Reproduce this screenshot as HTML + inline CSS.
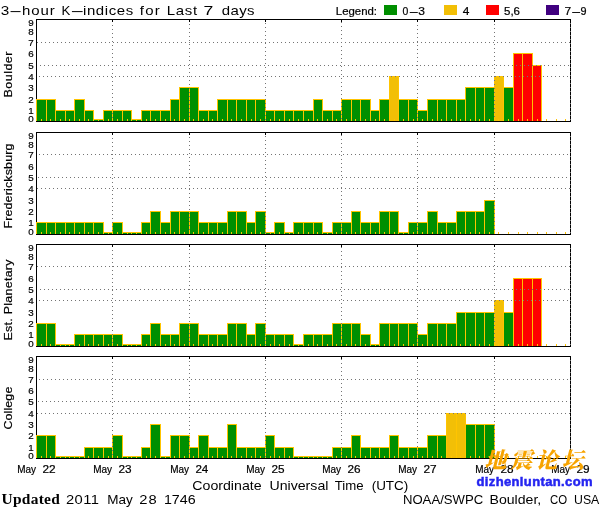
<!DOCTYPE html>
<html><head><meta charset="utf-8"><title>3-hour K-indices for Last 7 days</title>
<style>html,body{margin:0;padding:0;background:#fff}svg{display:block;will-change:transform}</style></head>
<body>
<svg width="600" height="510" viewBox="0 0 600 510">
<rect width="600" height="510" fill="#fff"/>
<g shape-rendering="crispEdges">
<rect x="384" y="5" width="13" height="10" fill="#008f00"/>
<rect x="444" y="5" width="13" height="10" fill="#f2bf06"/>
<rect x="486" y="5" width="13" height="10" fill="#ff0000"/>
<rect x="546" y="5" width="13" height="10" fill="#40007f"/>
<rect x="36" y="19" width="535" height="1" fill="#000"/>
<rect x="36" y="19" width="1" height="103" fill="#000"/>
<rect x="570" y="19" width="1" height="103" fill="#000"/>
<rect x="36" y="99" width="11" height="22" fill="#ffc400"/>
<rect x="37" y="100" width="9" height="21" fill="#008f00"/>
<rect x="46" y="99" width="10" height="22" fill="#ffc400"/>
<rect x="47" y="100" width="8" height="21" fill="#008f00"/>
<rect x="55" y="110" width="11" height="11" fill="#ffc400"/>
<rect x="56" y="111" width="9" height="10" fill="#008f00"/>
<rect x="65" y="110" width="10" height="11" fill="#ffc400"/>
<rect x="66" y="111" width="8" height="10" fill="#008f00"/>
<rect x="74" y="99" width="11" height="22" fill="#ffc400"/>
<rect x="75" y="100" width="9" height="21" fill="#008f00"/>
<rect x="84" y="110" width="10" height="11" fill="#ffc400"/>
<rect x="85" y="111" width="8" height="10" fill="#008f00"/>
<rect x="93" y="119" width="11" height="2" fill="#ffc400"/>
<rect x="94" y="120" width="9" height="1" fill="#008f00"/>
<rect x="103" y="110" width="10" height="11" fill="#ffc400"/>
<rect x="104" y="111" width="8" height="10" fill="#008f00"/>
<rect x="112" y="110" width="11" height="11" fill="#ffc400"/>
<rect x="113" y="111" width="9" height="10" fill="#008f00"/>
<rect x="122" y="110" width="10" height="11" fill="#ffc400"/>
<rect x="123" y="111" width="8" height="10" fill="#008f00"/>
<rect x="131" y="119" width="11" height="2" fill="#ffc400"/>
<rect x="132" y="120" width="9" height="1" fill="#008f00"/>
<rect x="141" y="110" width="10" height="11" fill="#ffc400"/>
<rect x="142" y="111" width="8" height="10" fill="#008f00"/>
<rect x="150" y="110" width="11" height="11" fill="#ffc400"/>
<rect x="151" y="111" width="9" height="10" fill="#008f00"/>
<rect x="160" y="110" width="11" height="11" fill="#ffc400"/>
<rect x="161" y="111" width="9" height="10" fill="#008f00"/>
<rect x="170" y="99" width="10" height="22" fill="#ffc400"/>
<rect x="171" y="100" width="8" height="21" fill="#008f00"/>
<rect x="179" y="87" width="11" height="34" fill="#ffc400"/>
<rect x="180" y="88" width="9" height="33" fill="#008f00"/>
<rect x="189" y="87" width="10" height="34" fill="#ffc400"/>
<rect x="190" y="88" width="8" height="33" fill="#008f00"/>
<rect x="198" y="110" width="11" height="11" fill="#ffc400"/>
<rect x="199" y="111" width="9" height="10" fill="#008f00"/>
<rect x="208" y="110" width="10" height="11" fill="#ffc400"/>
<rect x="209" y="111" width="8" height="10" fill="#008f00"/>
<rect x="217" y="99" width="11" height="22" fill="#ffc400"/>
<rect x="218" y="100" width="9" height="21" fill="#008f00"/>
<rect x="227" y="99" width="10" height="22" fill="#ffc400"/>
<rect x="228" y="100" width="8" height="21" fill="#008f00"/>
<rect x="236" y="99" width="11" height="22" fill="#ffc400"/>
<rect x="237" y="100" width="9" height="21" fill="#008f00"/>
<rect x="246" y="99" width="10" height="22" fill="#ffc400"/>
<rect x="247" y="100" width="8" height="21" fill="#008f00"/>
<rect x="255" y="99" width="11" height="22" fill="#ffc400"/>
<rect x="256" y="100" width="9" height="21" fill="#008f00"/>
<rect x="265" y="110" width="10" height="11" fill="#ffc400"/>
<rect x="266" y="111" width="8" height="10" fill="#008f00"/>
<rect x="274" y="110" width="11" height="11" fill="#ffc400"/>
<rect x="275" y="111" width="9" height="10" fill="#008f00"/>
<rect x="284" y="110" width="10" height="11" fill="#ffc400"/>
<rect x="285" y="111" width="8" height="10" fill="#008f00"/>
<rect x="293" y="110" width="11" height="11" fill="#ffc400"/>
<rect x="294" y="111" width="9" height="10" fill="#008f00"/>
<rect x="303" y="110" width="11" height="11" fill="#ffc400"/>
<rect x="304" y="111" width="9" height="10" fill="#008f00"/>
<rect x="313" y="99" width="10" height="22" fill="#ffc400"/>
<rect x="314" y="100" width="8" height="21" fill="#008f00"/>
<rect x="322" y="110" width="11" height="11" fill="#ffc400"/>
<rect x="323" y="111" width="9" height="10" fill="#008f00"/>
<rect x="332" y="110" width="10" height="11" fill="#ffc400"/>
<rect x="333" y="111" width="8" height="10" fill="#008f00"/>
<rect x="341" y="99" width="11" height="22" fill="#ffc400"/>
<rect x="342" y="100" width="9" height="21" fill="#008f00"/>
<rect x="351" y="99" width="10" height="22" fill="#ffc400"/>
<rect x="352" y="100" width="8" height="21" fill="#008f00"/>
<rect x="360" y="99" width="11" height="22" fill="#ffc400"/>
<rect x="361" y="100" width="9" height="21" fill="#008f00"/>
<rect x="370" y="110" width="10" height="11" fill="#ffc400"/>
<rect x="371" y="111" width="8" height="10" fill="#008f00"/>
<rect x="379" y="99" width="11" height="22" fill="#ffc400"/>
<rect x="380" y="100" width="9" height="21" fill="#008f00"/>
<rect x="389" y="76" width="10" height="45" fill="#ffc400"/>
<rect x="390" y="77" width="8" height="44" fill="#f2bf06"/>
<rect x="398" y="99" width="11" height="22" fill="#ffc400"/>
<rect x="399" y="100" width="9" height="21" fill="#008f00"/>
<rect x="408" y="99" width="10" height="22" fill="#ffc400"/>
<rect x="409" y="100" width="8" height="21" fill="#008f00"/>
<rect x="417" y="110" width="11" height="11" fill="#ffc400"/>
<rect x="418" y="111" width="9" height="10" fill="#008f00"/>
<rect x="427" y="99" width="11" height="22" fill="#ffc400"/>
<rect x="428" y="100" width="9" height="21" fill="#008f00"/>
<rect x="437" y="99" width="10" height="22" fill="#ffc400"/>
<rect x="438" y="100" width="8" height="21" fill="#008f00"/>
<rect x="446" y="99" width="11" height="22" fill="#ffc400"/>
<rect x="447" y="100" width="9" height="21" fill="#008f00"/>
<rect x="456" y="99" width="10" height="22" fill="#ffc400"/>
<rect x="457" y="100" width="8" height="21" fill="#008f00"/>
<rect x="465" y="87" width="11" height="34" fill="#ffc400"/>
<rect x="466" y="88" width="9" height="33" fill="#008f00"/>
<rect x="475" y="87" width="10" height="34" fill="#ffc400"/>
<rect x="476" y="88" width="8" height="33" fill="#008f00"/>
<rect x="484" y="87" width="11" height="34" fill="#ffc400"/>
<rect x="485" y="88" width="9" height="33" fill="#008f00"/>
<rect x="494" y="76" width="10" height="45" fill="#ffc400"/>
<rect x="495" y="77" width="8" height="44" fill="#f2bf06"/>
<rect x="503" y="87" width="11" height="34" fill="#ffc400"/>
<rect x="504" y="88" width="9" height="33" fill="#008f00"/>
<rect x="513" y="53" width="10" height="68" fill="#ffc400"/>
<rect x="514" y="54" width="8" height="67" fill="#ff0000"/>
<rect x="522" y="53" width="11" height="68" fill="#ffc400"/>
<rect x="523" y="54" width="9" height="67" fill="#ff0000"/>
<rect x="532" y="65" width="10" height="56" fill="#ffc400"/>
<rect x="533" y="66" width="8" height="55" fill="#ff0000"/>
<rect x="41" y="119" width="1" height="2" fill="#ffc400"/>
<rect x="50" y="119" width="1" height="2" fill="#ffc400"/>
<rect x="60" y="119" width="1" height="2" fill="#ffc400"/>
<rect x="69" y="119" width="1" height="2" fill="#ffc400"/>
<rect x="79" y="119" width="1" height="2" fill="#ffc400"/>
<rect x="88" y="119" width="1" height="2" fill="#ffc400"/>
<rect x="98" y="119" width="1" height="2" fill="#ffc400"/>
<rect x="108" y="119" width="1" height="2" fill="#ffc400"/>
<rect x="117" y="119" width="1" height="2" fill="#ffc400"/>
<rect x="127" y="119" width="1" height="2" fill="#ffc400"/>
<rect x="136" y="119" width="1" height="2" fill="#ffc400"/>
<rect x="146" y="119" width="1" height="2" fill="#ffc400"/>
<rect x="155" y="119" width="1" height="2" fill="#ffc400"/>
<rect x="165" y="119" width="1" height="2" fill="#ffc400"/>
<rect x="174" y="119" width="1" height="2" fill="#ffc400"/>
<rect x="184" y="119" width="1" height="2" fill="#ffc400"/>
<rect x="193" y="119" width="1" height="2" fill="#ffc400"/>
<rect x="203" y="119" width="1" height="2" fill="#ffc400"/>
<rect x="212" y="119" width="1" height="2" fill="#ffc400"/>
<rect x="222" y="119" width="1" height="2" fill="#ffc400"/>
<rect x="231" y="119" width="1" height="2" fill="#ffc400"/>
<rect x="241" y="119" width="1" height="2" fill="#ffc400"/>
<rect x="251" y="119" width="1" height="2" fill="#ffc400"/>
<rect x="260" y="119" width="1" height="2" fill="#ffc400"/>
<rect x="270" y="119" width="1" height="2" fill="#ffc400"/>
<rect x="279" y="119" width="1" height="2" fill="#ffc400"/>
<rect x="289" y="119" width="1" height="2" fill="#ffc400"/>
<rect x="298" y="119" width="1" height="2" fill="#ffc400"/>
<rect x="308" y="119" width="1" height="2" fill="#ffc400"/>
<rect x="317" y="119" width="1" height="2" fill="#ffc400"/>
<rect x="327" y="119" width="1" height="2" fill="#ffc400"/>
<rect x="336" y="119" width="1" height="2" fill="#ffc400"/>
<rect x="346" y="119" width="1" height="2" fill="#ffc400"/>
<rect x="355" y="119" width="1" height="2" fill="#ffc400"/>
<rect x="365" y="119" width="1" height="2" fill="#ffc400"/>
<rect x="375" y="119" width="1" height="2" fill="#ffc400"/>
<rect x="384" y="119" width="1" height="2" fill="#ffc400"/>
<rect x="394" y="119" width="1" height="2" fill="#ffc400"/>
<rect x="403" y="119" width="1" height="2" fill="#ffc400"/>
<rect x="413" y="119" width="1" height="2" fill="#ffc400"/>
<rect x="422" y="119" width="1" height="2" fill="#ffc400"/>
<rect x="432" y="119" width="1" height="2" fill="#ffc400"/>
<rect x="441" y="119" width="1" height="2" fill="#ffc400"/>
<rect x="451" y="119" width="1" height="2" fill="#ffc400"/>
<rect x="460" y="119" width="1" height="2" fill="#ffc400"/>
<rect x="470" y="119" width="1" height="2" fill="#ffc400"/>
<rect x="479" y="119" width="1" height="2" fill="#ffc400"/>
<rect x="489" y="119" width="1" height="2" fill="#ffc400"/>
<rect x="498" y="119" width="1" height="2" fill="#ffc400"/>
<rect x="508" y="119" width="1" height="2" fill="#ffc400"/>
<rect x="518" y="119" width="1" height="2" fill="#ffc400"/>
<rect x="527" y="119" width="1" height="2" fill="#ffc400"/>
<rect x="537" y="119" width="1" height="2" fill="#ffc400"/>
<rect x="546" y="119" width="1" height="2" fill="#ffc400"/>
<rect x="556" y="119" width="1" height="2" fill="#ffc400"/>
<rect x="565" y="119" width="1" height="2" fill="#ffc400"/>
<path d="M37 42h1v1h-1zM41 42h1v1h-1zM45 42h1v1h-1zM49 42h1v1h-1zM53 42h1v1h-1zM57 42h1v1h-1zM61 42h1v1h-1zM65 42h1v1h-1zM69 42h1v1h-1zM73 42h1v1h-1zM77 42h1v1h-1zM81 42h1v1h-1zM85 42h1v1h-1zM89 42h1v1h-1zM93 42h1v1h-1zM97 42h1v1h-1zM101 42h1v1h-1zM105 42h1v1h-1zM109 42h1v1h-1zM113 42h1v1h-1zM117 42h1v1h-1zM121 42h1v1h-1zM125 42h1v1h-1zM129 42h1v1h-1zM133 42h1v1h-1zM137 42h1v1h-1zM141 42h1v1h-1zM145 42h1v1h-1zM149 42h1v1h-1zM153 42h1v1h-1zM157 42h1v1h-1zM161 42h1v1h-1zM165 42h1v1h-1zM169 42h1v1h-1zM173 42h1v1h-1zM177 42h1v1h-1zM181 42h1v1h-1zM185 42h1v1h-1zM189 42h1v1h-1zM193 42h1v1h-1zM197 42h1v1h-1zM201 42h1v1h-1zM205 42h1v1h-1zM209 42h1v1h-1zM213 42h1v1h-1zM217 42h1v1h-1zM221 42h1v1h-1zM225 42h1v1h-1zM229 42h1v1h-1zM233 42h1v1h-1zM237 42h1v1h-1zM241 42h1v1h-1zM245 42h1v1h-1zM249 42h1v1h-1zM253 42h1v1h-1zM257 42h1v1h-1zM261 42h1v1h-1zM265 42h1v1h-1zM269 42h1v1h-1zM273 42h1v1h-1zM277 42h1v1h-1zM281 42h1v1h-1zM285 42h1v1h-1zM289 42h1v1h-1zM293 42h1v1h-1zM297 42h1v1h-1zM301 42h1v1h-1zM305 42h1v1h-1zM309 42h1v1h-1zM313 42h1v1h-1zM317 42h1v1h-1zM321 42h1v1h-1zM325 42h1v1h-1zM329 42h1v1h-1zM333 42h1v1h-1zM337 42h1v1h-1zM341 42h1v1h-1zM345 42h1v1h-1zM349 42h1v1h-1zM353 42h1v1h-1zM357 42h1v1h-1zM361 42h1v1h-1zM365 42h1v1h-1zM369 42h1v1h-1zM373 42h1v1h-1zM377 42h1v1h-1zM381 42h1v1h-1zM385 42h1v1h-1zM389 42h1v1h-1zM393 42h1v1h-1zM397 42h1v1h-1zM401 42h1v1h-1zM405 42h1v1h-1zM409 42h1v1h-1zM413 42h1v1h-1zM417 42h1v1h-1zM421 42h1v1h-1zM425 42h1v1h-1zM429 42h1v1h-1zM433 42h1v1h-1zM437 42h1v1h-1zM441 42h1v1h-1zM445 42h1v1h-1zM449 42h1v1h-1zM453 42h1v1h-1zM457 42h1v1h-1zM461 42h1v1h-1zM465 42h1v1h-1zM469 42h1v1h-1zM473 42h1v1h-1zM477 42h1v1h-1zM481 42h1v1h-1zM485 42h1v1h-1zM489 42h1v1h-1zM493 42h1v1h-1zM497 42h1v1h-1zM501 42h1v1h-1zM505 42h1v1h-1zM509 42h1v1h-1zM513 42h1v1h-1zM517 42h1v1h-1zM521 42h1v1h-1zM525 42h1v1h-1zM529 42h1v1h-1zM533 42h1v1h-1zM537 42h1v1h-1zM541 42h1v1h-1zM545 42h1v1h-1zM549 42h1v1h-1zM553 42h1v1h-1zM557 42h1v1h-1zM561 42h1v1h-1zM565 42h1v1h-1zM569 42h1v1h-1z" fill="#747474"/>
<path d="M40 65h1v1h-1zM44 65h1v1h-1zM48 65h1v1h-1zM52 65h1v1h-1zM56 65h1v1h-1zM60 65h1v1h-1zM64 65h1v1h-1zM68 65h1v1h-1zM72 65h1v1h-1zM76 65h1v1h-1zM80 65h1v1h-1zM84 65h1v1h-1zM88 65h1v1h-1zM92 65h1v1h-1zM96 65h1v1h-1zM100 65h1v1h-1zM104 65h1v1h-1zM108 65h1v1h-1zM112 65h1v1h-1zM116 65h1v1h-1zM120 65h1v1h-1zM124 65h1v1h-1zM128 65h1v1h-1zM132 65h1v1h-1zM136 65h1v1h-1zM140 65h1v1h-1zM144 65h1v1h-1zM148 65h1v1h-1zM152 65h1v1h-1zM156 65h1v1h-1zM160 65h1v1h-1zM164 65h1v1h-1zM168 65h1v1h-1zM172 65h1v1h-1zM176 65h1v1h-1zM180 65h1v1h-1zM184 65h1v1h-1zM188 65h1v1h-1zM192 65h1v1h-1zM196 65h1v1h-1zM200 65h1v1h-1zM204 65h1v1h-1zM208 65h1v1h-1zM212 65h1v1h-1zM216 65h1v1h-1zM220 65h1v1h-1zM224 65h1v1h-1zM228 65h1v1h-1zM232 65h1v1h-1zM236 65h1v1h-1zM240 65h1v1h-1zM244 65h1v1h-1zM248 65h1v1h-1zM252 65h1v1h-1zM256 65h1v1h-1zM260 65h1v1h-1zM264 65h1v1h-1zM268 65h1v1h-1zM272 65h1v1h-1zM276 65h1v1h-1zM280 65h1v1h-1zM284 65h1v1h-1zM288 65h1v1h-1zM292 65h1v1h-1zM296 65h1v1h-1zM300 65h1v1h-1zM304 65h1v1h-1zM308 65h1v1h-1zM312 65h1v1h-1zM316 65h1v1h-1zM320 65h1v1h-1zM324 65h1v1h-1zM328 65h1v1h-1zM332 65h1v1h-1zM336 65h1v1h-1zM340 65h1v1h-1zM344 65h1v1h-1zM348 65h1v1h-1zM352 65h1v1h-1zM356 65h1v1h-1zM360 65h1v1h-1zM364 65h1v1h-1zM368 65h1v1h-1zM372 65h1v1h-1zM376 65h1v1h-1zM380 65h1v1h-1zM384 65h1v1h-1zM388 65h1v1h-1zM392 65h1v1h-1zM396 65h1v1h-1zM400 65h1v1h-1zM404 65h1v1h-1zM408 65h1v1h-1zM412 65h1v1h-1zM416 65h1v1h-1zM420 65h1v1h-1zM424 65h1v1h-1zM428 65h1v1h-1zM432 65h1v1h-1zM436 65h1v1h-1zM440 65h1v1h-1zM444 65h1v1h-1zM448 65h1v1h-1zM452 65h1v1h-1zM456 65h1v1h-1zM460 65h1v1h-1zM464 65h1v1h-1zM468 65h1v1h-1zM472 65h1v1h-1zM476 65h1v1h-1zM480 65h1v1h-1zM484 65h1v1h-1zM488 65h1v1h-1zM492 65h1v1h-1zM496 65h1v1h-1zM500 65h1v1h-1zM504 65h1v1h-1zM508 65h1v1h-1zM512 65h1v1h-1zM516 65h1v1h-1zM520 65h1v1h-1zM524 65h1v1h-1zM528 65h1v1h-1zM532 65h1v1h-1zM536 65h1v1h-1zM540 65h1v1h-1zM544 65h1v1h-1zM548 65h1v1h-1zM552 65h1v1h-1zM556 65h1v1h-1zM560 65h1v1h-1zM564 65h1v1h-1zM568 65h1v1h-1z" fill="#747474"/>
<path d="M39 76h1v1h-1zM43 76h1v1h-1zM47 76h1v1h-1zM51 76h1v1h-1zM55 76h1v1h-1zM59 76h1v1h-1zM63 76h1v1h-1zM67 76h1v1h-1zM71 76h1v1h-1zM75 76h1v1h-1zM79 76h1v1h-1zM83 76h1v1h-1zM87 76h1v1h-1zM91 76h1v1h-1zM95 76h1v1h-1zM99 76h1v1h-1zM103 76h1v1h-1zM107 76h1v1h-1zM111 76h1v1h-1zM115 76h1v1h-1zM119 76h1v1h-1zM123 76h1v1h-1zM127 76h1v1h-1zM131 76h1v1h-1zM135 76h1v1h-1zM139 76h1v1h-1zM143 76h1v1h-1zM147 76h1v1h-1zM151 76h1v1h-1zM155 76h1v1h-1zM159 76h1v1h-1zM163 76h1v1h-1zM167 76h1v1h-1zM171 76h1v1h-1zM175 76h1v1h-1zM179 76h1v1h-1zM183 76h1v1h-1zM187 76h1v1h-1zM191 76h1v1h-1zM195 76h1v1h-1zM199 76h1v1h-1zM203 76h1v1h-1zM207 76h1v1h-1zM211 76h1v1h-1zM215 76h1v1h-1zM219 76h1v1h-1zM223 76h1v1h-1zM227 76h1v1h-1zM231 76h1v1h-1zM235 76h1v1h-1zM239 76h1v1h-1zM243 76h1v1h-1zM247 76h1v1h-1zM251 76h1v1h-1zM255 76h1v1h-1zM259 76h1v1h-1zM263 76h1v1h-1zM267 76h1v1h-1zM271 76h1v1h-1zM275 76h1v1h-1zM279 76h1v1h-1zM283 76h1v1h-1zM287 76h1v1h-1zM291 76h1v1h-1zM295 76h1v1h-1zM299 76h1v1h-1zM303 76h1v1h-1zM307 76h1v1h-1zM311 76h1v1h-1zM315 76h1v1h-1zM319 76h1v1h-1zM323 76h1v1h-1zM327 76h1v1h-1zM331 76h1v1h-1zM335 76h1v1h-1zM339 76h1v1h-1zM343 76h1v1h-1zM347 76h1v1h-1zM351 76h1v1h-1zM355 76h1v1h-1zM359 76h1v1h-1zM363 76h1v1h-1zM367 76h1v1h-1zM371 76h1v1h-1zM375 76h1v1h-1zM379 76h1v1h-1zM383 76h1v1h-1zM387 76h1v1h-1zM391 76h1v1h-1zM395 76h1v1h-1zM399 76h1v1h-1zM403 76h1v1h-1zM407 76h1v1h-1zM411 76h1v1h-1zM415 76h1v1h-1zM419 76h1v1h-1zM423 76h1v1h-1zM427 76h1v1h-1zM431 76h1v1h-1zM435 76h1v1h-1zM439 76h1v1h-1zM443 76h1v1h-1zM447 76h1v1h-1zM451 76h1v1h-1zM455 76h1v1h-1zM459 76h1v1h-1zM463 76h1v1h-1zM467 76h1v1h-1zM471 76h1v1h-1zM475 76h1v1h-1zM479 76h1v1h-1zM483 76h1v1h-1zM487 76h1v1h-1zM491 76h1v1h-1zM495 76h1v1h-1zM499 76h1v1h-1zM503 76h1v1h-1zM507 76h1v1h-1zM511 76h1v1h-1zM515 76h1v1h-1zM519 76h1v1h-1zM523 76h1v1h-1zM527 76h1v1h-1zM531 76h1v1h-1zM535 76h1v1h-1zM539 76h1v1h-1zM543 76h1v1h-1zM547 76h1v1h-1zM551 76h1v1h-1zM555 76h1v1h-1zM559 76h1v1h-1zM563 76h1v1h-1zM567 76h1v1h-1z" fill="#747474"/>
<path d="M112 25h1v1h-1zM112 29h1v1h-1zM112 33h1v1h-1zM112 37h1v1h-1zM112 41h1v1h-1zM112 45h1v1h-1zM112 49h1v1h-1zM112 53h1v1h-1zM112 57h1v1h-1zM112 61h1v1h-1zM112 65h1v1h-1zM112 69h1v1h-1zM112 73h1v1h-1zM112 77h1v1h-1zM112 81h1v1h-1zM112 85h1v1h-1zM112 89h1v1h-1zM112 93h1v1h-1zM112 97h1v1h-1zM112 101h1v1h-1zM112 105h1v1h-1zM112 109h1v1h-1zM112 113h1v1h-1zM112 117h1v1h-1z" fill="#747474"/>
<rect x="112" y="20" width="1" height="2" fill="#000"/>
<path d="M189 24h1v1h-1zM189 28h1v1h-1zM189 32h1v1h-1zM189 36h1v1h-1zM189 40h1v1h-1zM189 44h1v1h-1zM189 48h1v1h-1zM189 52h1v1h-1zM189 56h1v1h-1zM189 60h1v1h-1zM189 64h1v1h-1zM189 68h1v1h-1zM189 72h1v1h-1zM189 76h1v1h-1zM189 80h1v1h-1zM189 84h1v1h-1zM189 88h1v1h-1zM189 92h1v1h-1zM189 96h1v1h-1zM189 100h1v1h-1zM189 104h1v1h-1zM189 108h1v1h-1zM189 112h1v1h-1zM189 116h1v1h-1z" fill="#747474"/>
<rect x="189" y="20" width="1" height="2" fill="#000"/>
<path d="M265 23h1v1h-1zM265 27h1v1h-1zM265 31h1v1h-1zM265 35h1v1h-1zM265 39h1v1h-1zM265 43h1v1h-1zM265 47h1v1h-1zM265 51h1v1h-1zM265 55h1v1h-1zM265 59h1v1h-1zM265 63h1v1h-1zM265 67h1v1h-1zM265 71h1v1h-1zM265 75h1v1h-1zM265 79h1v1h-1zM265 83h1v1h-1zM265 87h1v1h-1zM265 91h1v1h-1zM265 95h1v1h-1zM265 99h1v1h-1zM265 103h1v1h-1zM265 107h1v1h-1zM265 111h1v1h-1zM265 115h1v1h-1zM265 119h1v1h-1z" fill="#747474"/>
<rect x="265" y="20" width="1" height="2" fill="#000"/>
<path d="M341 22h1v1h-1zM341 26h1v1h-1zM341 30h1v1h-1zM341 34h1v1h-1zM341 38h1v1h-1zM341 42h1v1h-1zM341 46h1v1h-1zM341 50h1v1h-1zM341 54h1v1h-1zM341 58h1v1h-1zM341 62h1v1h-1zM341 66h1v1h-1zM341 70h1v1h-1zM341 74h1v1h-1zM341 78h1v1h-1zM341 82h1v1h-1zM341 86h1v1h-1zM341 90h1v1h-1zM341 94h1v1h-1zM341 98h1v1h-1zM341 102h1v1h-1zM341 106h1v1h-1zM341 110h1v1h-1zM341 114h1v1h-1zM341 118h1v1h-1z" fill="#747474"/>
<rect x="341" y="20" width="1" height="2" fill="#000"/>
<path d="M417 25h1v1h-1zM417 29h1v1h-1zM417 33h1v1h-1zM417 37h1v1h-1zM417 41h1v1h-1zM417 45h1v1h-1zM417 49h1v1h-1zM417 53h1v1h-1zM417 57h1v1h-1zM417 61h1v1h-1zM417 65h1v1h-1zM417 69h1v1h-1zM417 73h1v1h-1zM417 77h1v1h-1zM417 81h1v1h-1zM417 85h1v1h-1zM417 89h1v1h-1zM417 93h1v1h-1zM417 97h1v1h-1zM417 101h1v1h-1zM417 105h1v1h-1zM417 109h1v1h-1zM417 113h1v1h-1zM417 117h1v1h-1z" fill="#747474"/>
<rect x="417" y="20" width="1" height="2" fill="#000"/>
<path d="M494 24h1v1h-1zM494 28h1v1h-1zM494 32h1v1h-1zM494 36h1v1h-1zM494 40h1v1h-1zM494 44h1v1h-1zM494 48h1v1h-1zM494 52h1v1h-1zM494 56h1v1h-1zM494 60h1v1h-1zM494 64h1v1h-1zM494 68h1v1h-1zM494 72h1v1h-1zM494 76h1v1h-1zM494 80h1v1h-1zM494 84h1v1h-1zM494 88h1v1h-1zM494 92h1v1h-1zM494 96h1v1h-1zM494 100h1v1h-1zM494 104h1v1h-1zM494 108h1v1h-1zM494 112h1v1h-1zM494 116h1v1h-1z" fill="#747474"/>
<rect x="494" y="20" width="1" height="2" fill="#000"/>
<path d="M570 23h1v1h-1zM570 27h1v1h-1zM570 31h1v1h-1zM570 35h1v1h-1zM570 39h1v1h-1zM570 43h1v1h-1zM570 47h1v1h-1zM570 51h1v1h-1zM570 55h1v1h-1zM570 59h1v1h-1zM570 63h1v1h-1zM570 67h1v1h-1zM570 71h1v1h-1zM570 75h1v1h-1zM570 79h1v1h-1zM570 83h1v1h-1zM570 87h1v1h-1zM570 91h1v1h-1zM570 95h1v1h-1zM570 99h1v1h-1zM570 103h1v1h-1zM570 107h1v1h-1zM570 111h1v1h-1zM570 115h1v1h-1zM570 119h1v1h-1z" fill="#747474"/>
<rect x="36" y="121" width="535" height="1" fill="#000"/>
<rect x="36" y="132" width="535" height="1" fill="#000"/>
<rect x="36" y="132" width="1" height="103" fill="#000"/>
<rect x="570" y="132" width="1" height="103" fill="#000"/>
<rect x="36" y="222" width="11" height="12" fill="#ffc400"/>
<rect x="37" y="223" width="9" height="11" fill="#008f00"/>
<rect x="46" y="222" width="10" height="12" fill="#ffc400"/>
<rect x="47" y="223" width="8" height="11" fill="#008f00"/>
<rect x="55" y="222" width="11" height="12" fill="#ffc400"/>
<rect x="56" y="223" width="9" height="11" fill="#008f00"/>
<rect x="65" y="222" width="10" height="12" fill="#ffc400"/>
<rect x="66" y="223" width="8" height="11" fill="#008f00"/>
<rect x="74" y="222" width="11" height="12" fill="#ffc400"/>
<rect x="75" y="223" width="9" height="11" fill="#008f00"/>
<rect x="84" y="222" width="10" height="12" fill="#ffc400"/>
<rect x="85" y="223" width="8" height="11" fill="#008f00"/>
<rect x="93" y="222" width="11" height="12" fill="#ffc400"/>
<rect x="94" y="223" width="9" height="11" fill="#008f00"/>
<rect x="103" y="232" width="10" height="2" fill="#ffc400"/>
<rect x="104" y="233" width="8" height="1" fill="#008f00"/>
<rect x="112" y="222" width="11" height="12" fill="#ffc400"/>
<rect x="113" y="223" width="9" height="11" fill="#008f00"/>
<rect x="122" y="232" width="10" height="2" fill="#ffc400"/>
<rect x="123" y="233" width="8" height="1" fill="#008f00"/>
<rect x="131" y="232" width="11" height="2" fill="#ffc400"/>
<rect x="132" y="233" width="9" height="1" fill="#008f00"/>
<rect x="141" y="222" width="10" height="12" fill="#ffc400"/>
<rect x="142" y="223" width="8" height="11" fill="#008f00"/>
<rect x="150" y="211" width="11" height="23" fill="#ffc400"/>
<rect x="151" y="212" width="9" height="22" fill="#008f00"/>
<rect x="160" y="222" width="11" height="12" fill="#ffc400"/>
<rect x="161" y="223" width="9" height="11" fill="#008f00"/>
<rect x="170" y="211" width="10" height="23" fill="#ffc400"/>
<rect x="171" y="212" width="8" height="22" fill="#008f00"/>
<rect x="179" y="211" width="11" height="23" fill="#ffc400"/>
<rect x="180" y="212" width="9" height="22" fill="#008f00"/>
<rect x="189" y="211" width="10" height="23" fill="#ffc400"/>
<rect x="190" y="212" width="8" height="22" fill="#008f00"/>
<rect x="198" y="222" width="11" height="12" fill="#ffc400"/>
<rect x="199" y="223" width="9" height="11" fill="#008f00"/>
<rect x="208" y="222" width="10" height="12" fill="#ffc400"/>
<rect x="209" y="223" width="8" height="11" fill="#008f00"/>
<rect x="217" y="222" width="11" height="12" fill="#ffc400"/>
<rect x="218" y="223" width="9" height="11" fill="#008f00"/>
<rect x="227" y="211" width="10" height="23" fill="#ffc400"/>
<rect x="228" y="212" width="8" height="22" fill="#008f00"/>
<rect x="236" y="211" width="11" height="23" fill="#ffc400"/>
<rect x="237" y="212" width="9" height="22" fill="#008f00"/>
<rect x="246" y="222" width="10" height="12" fill="#ffc400"/>
<rect x="247" y="223" width="8" height="11" fill="#008f00"/>
<rect x="255" y="211" width="11" height="23" fill="#ffc400"/>
<rect x="256" y="212" width="9" height="22" fill="#008f00"/>
<rect x="265" y="232" width="10" height="2" fill="#ffc400"/>
<rect x="266" y="233" width="8" height="1" fill="#008f00"/>
<rect x="274" y="222" width="11" height="12" fill="#ffc400"/>
<rect x="275" y="223" width="9" height="11" fill="#008f00"/>
<rect x="284" y="232" width="10" height="2" fill="#ffc400"/>
<rect x="285" y="233" width="8" height="1" fill="#008f00"/>
<rect x="293" y="222" width="11" height="12" fill="#ffc400"/>
<rect x="294" y="223" width="9" height="11" fill="#008f00"/>
<rect x="303" y="222" width="11" height="12" fill="#ffc400"/>
<rect x="304" y="223" width="9" height="11" fill="#008f00"/>
<rect x="313" y="222" width="10" height="12" fill="#ffc400"/>
<rect x="314" y="223" width="8" height="11" fill="#008f00"/>
<rect x="322" y="232" width="11" height="2" fill="#ffc400"/>
<rect x="323" y="233" width="9" height="1" fill="#008f00"/>
<rect x="332" y="222" width="10" height="12" fill="#ffc400"/>
<rect x="333" y="223" width="8" height="11" fill="#008f00"/>
<rect x="341" y="222" width="11" height="12" fill="#ffc400"/>
<rect x="342" y="223" width="9" height="11" fill="#008f00"/>
<rect x="351" y="211" width="10" height="23" fill="#ffc400"/>
<rect x="352" y="212" width="8" height="22" fill="#008f00"/>
<rect x="360" y="222" width="11" height="12" fill="#ffc400"/>
<rect x="361" y="223" width="9" height="11" fill="#008f00"/>
<rect x="370" y="222" width="10" height="12" fill="#ffc400"/>
<rect x="371" y="223" width="8" height="11" fill="#008f00"/>
<rect x="379" y="211" width="11" height="23" fill="#ffc400"/>
<rect x="380" y="212" width="9" height="22" fill="#008f00"/>
<rect x="389" y="211" width="10" height="23" fill="#ffc400"/>
<rect x="390" y="212" width="8" height="22" fill="#008f00"/>
<rect x="398" y="232" width="11" height="2" fill="#ffc400"/>
<rect x="399" y="233" width="9" height="1" fill="#008f00"/>
<rect x="408" y="222" width="10" height="12" fill="#ffc400"/>
<rect x="409" y="223" width="8" height="11" fill="#008f00"/>
<rect x="417" y="222" width="11" height="12" fill="#ffc400"/>
<rect x="418" y="223" width="9" height="11" fill="#008f00"/>
<rect x="427" y="211" width="11" height="23" fill="#ffc400"/>
<rect x="428" y="212" width="9" height="22" fill="#008f00"/>
<rect x="437" y="222" width="10" height="12" fill="#ffc400"/>
<rect x="438" y="223" width="8" height="11" fill="#008f00"/>
<rect x="446" y="222" width="11" height="12" fill="#ffc400"/>
<rect x="447" y="223" width="9" height="11" fill="#008f00"/>
<rect x="456" y="211" width="10" height="23" fill="#ffc400"/>
<rect x="457" y="212" width="8" height="22" fill="#008f00"/>
<rect x="465" y="211" width="11" height="23" fill="#ffc400"/>
<rect x="466" y="212" width="9" height="22" fill="#008f00"/>
<rect x="475" y="211" width="10" height="23" fill="#ffc400"/>
<rect x="476" y="212" width="8" height="22" fill="#008f00"/>
<rect x="484" y="200" width="11" height="34" fill="#ffc400"/>
<rect x="485" y="201" width="9" height="33" fill="#008f00"/>
<rect x="41" y="232" width="1" height="2" fill="#ffc400"/>
<rect x="50" y="232" width="1" height="2" fill="#ffc400"/>
<rect x="60" y="232" width="1" height="2" fill="#ffc400"/>
<rect x="69" y="232" width="1" height="2" fill="#ffc400"/>
<rect x="79" y="232" width="1" height="2" fill="#ffc400"/>
<rect x="88" y="232" width="1" height="2" fill="#ffc400"/>
<rect x="98" y="232" width="1" height="2" fill="#ffc400"/>
<rect x="108" y="232" width="1" height="2" fill="#ffc400"/>
<rect x="117" y="232" width="1" height="2" fill="#ffc400"/>
<rect x="127" y="232" width="1" height="2" fill="#ffc400"/>
<rect x="136" y="232" width="1" height="2" fill="#ffc400"/>
<rect x="146" y="232" width="1" height="2" fill="#ffc400"/>
<rect x="155" y="232" width="1" height="2" fill="#ffc400"/>
<rect x="165" y="232" width="1" height="2" fill="#ffc400"/>
<rect x="174" y="232" width="1" height="2" fill="#ffc400"/>
<rect x="184" y="232" width="1" height="2" fill="#ffc400"/>
<rect x="193" y="232" width="1" height="2" fill="#ffc400"/>
<rect x="203" y="232" width="1" height="2" fill="#ffc400"/>
<rect x="212" y="232" width="1" height="2" fill="#ffc400"/>
<rect x="222" y="232" width="1" height="2" fill="#ffc400"/>
<rect x="231" y="232" width="1" height="2" fill="#ffc400"/>
<rect x="241" y="232" width="1" height="2" fill="#ffc400"/>
<rect x="251" y="232" width="1" height="2" fill="#ffc400"/>
<rect x="260" y="232" width="1" height="2" fill="#ffc400"/>
<rect x="270" y="232" width="1" height="2" fill="#ffc400"/>
<rect x="279" y="232" width="1" height="2" fill="#ffc400"/>
<rect x="289" y="232" width="1" height="2" fill="#ffc400"/>
<rect x="298" y="232" width="1" height="2" fill="#ffc400"/>
<rect x="308" y="232" width="1" height="2" fill="#ffc400"/>
<rect x="317" y="232" width="1" height="2" fill="#ffc400"/>
<rect x="327" y="232" width="1" height="2" fill="#ffc400"/>
<rect x="336" y="232" width="1" height="2" fill="#ffc400"/>
<rect x="346" y="232" width="1" height="2" fill="#ffc400"/>
<rect x="355" y="232" width="1" height="2" fill="#ffc400"/>
<rect x="365" y="232" width="1" height="2" fill="#ffc400"/>
<rect x="375" y="232" width="1" height="2" fill="#ffc400"/>
<rect x="384" y="232" width="1" height="2" fill="#ffc400"/>
<rect x="394" y="232" width="1" height="2" fill="#ffc400"/>
<rect x="403" y="232" width="1" height="2" fill="#ffc400"/>
<rect x="413" y="232" width="1" height="2" fill="#ffc400"/>
<rect x="422" y="232" width="1" height="2" fill="#ffc400"/>
<rect x="432" y="232" width="1" height="2" fill="#ffc400"/>
<rect x="441" y="232" width="1" height="2" fill="#ffc400"/>
<rect x="451" y="232" width="1" height="2" fill="#ffc400"/>
<rect x="460" y="232" width="1" height="2" fill="#ffc400"/>
<rect x="470" y="232" width="1" height="2" fill="#ffc400"/>
<rect x="479" y="232" width="1" height="2" fill="#ffc400"/>
<rect x="489" y="232" width="1" height="2" fill="#ffc400"/>
<rect x="498" y="232" width="1" height="2" fill="#ffc400"/>
<rect x="508" y="232" width="1" height="2" fill="#ffc400"/>
<rect x="518" y="232" width="1" height="2" fill="#ffc400"/>
<rect x="527" y="232" width="1" height="2" fill="#ffc400"/>
<rect x="537" y="232" width="1" height="2" fill="#ffc400"/>
<rect x="546" y="232" width="1" height="2" fill="#ffc400"/>
<rect x="556" y="232" width="1" height="2" fill="#ffc400"/>
<rect x="565" y="232" width="1" height="2" fill="#ffc400"/>
<path d="M39 154h1v1h-1zM43 154h1v1h-1zM47 154h1v1h-1zM51 154h1v1h-1zM55 154h1v1h-1zM59 154h1v1h-1zM63 154h1v1h-1zM67 154h1v1h-1zM71 154h1v1h-1zM75 154h1v1h-1zM79 154h1v1h-1zM83 154h1v1h-1zM87 154h1v1h-1zM91 154h1v1h-1zM95 154h1v1h-1zM99 154h1v1h-1zM103 154h1v1h-1zM107 154h1v1h-1zM111 154h1v1h-1zM115 154h1v1h-1zM119 154h1v1h-1zM123 154h1v1h-1zM127 154h1v1h-1zM131 154h1v1h-1zM135 154h1v1h-1zM139 154h1v1h-1zM143 154h1v1h-1zM147 154h1v1h-1zM151 154h1v1h-1zM155 154h1v1h-1zM159 154h1v1h-1zM163 154h1v1h-1zM167 154h1v1h-1zM171 154h1v1h-1zM175 154h1v1h-1zM179 154h1v1h-1zM183 154h1v1h-1zM187 154h1v1h-1zM191 154h1v1h-1zM195 154h1v1h-1zM199 154h1v1h-1zM203 154h1v1h-1zM207 154h1v1h-1zM211 154h1v1h-1zM215 154h1v1h-1zM219 154h1v1h-1zM223 154h1v1h-1zM227 154h1v1h-1zM231 154h1v1h-1zM235 154h1v1h-1zM239 154h1v1h-1zM243 154h1v1h-1zM247 154h1v1h-1zM251 154h1v1h-1zM255 154h1v1h-1zM259 154h1v1h-1zM263 154h1v1h-1zM267 154h1v1h-1zM271 154h1v1h-1zM275 154h1v1h-1zM279 154h1v1h-1zM283 154h1v1h-1zM287 154h1v1h-1zM291 154h1v1h-1zM295 154h1v1h-1zM299 154h1v1h-1zM303 154h1v1h-1zM307 154h1v1h-1zM311 154h1v1h-1zM315 154h1v1h-1zM319 154h1v1h-1zM323 154h1v1h-1zM327 154h1v1h-1zM331 154h1v1h-1zM335 154h1v1h-1zM339 154h1v1h-1zM343 154h1v1h-1zM347 154h1v1h-1zM351 154h1v1h-1zM355 154h1v1h-1zM359 154h1v1h-1zM363 154h1v1h-1zM367 154h1v1h-1zM371 154h1v1h-1zM375 154h1v1h-1zM379 154h1v1h-1zM383 154h1v1h-1zM387 154h1v1h-1zM391 154h1v1h-1zM395 154h1v1h-1zM399 154h1v1h-1zM403 154h1v1h-1zM407 154h1v1h-1zM411 154h1v1h-1zM415 154h1v1h-1zM419 154h1v1h-1zM423 154h1v1h-1zM427 154h1v1h-1zM431 154h1v1h-1zM435 154h1v1h-1zM439 154h1v1h-1zM443 154h1v1h-1zM447 154h1v1h-1zM451 154h1v1h-1zM455 154h1v1h-1zM459 154h1v1h-1zM463 154h1v1h-1zM467 154h1v1h-1zM471 154h1v1h-1zM475 154h1v1h-1zM479 154h1v1h-1zM483 154h1v1h-1zM487 154h1v1h-1zM491 154h1v1h-1zM495 154h1v1h-1zM499 154h1v1h-1zM503 154h1v1h-1zM507 154h1v1h-1zM511 154h1v1h-1zM515 154h1v1h-1zM519 154h1v1h-1zM523 154h1v1h-1zM527 154h1v1h-1zM531 154h1v1h-1zM535 154h1v1h-1zM539 154h1v1h-1zM543 154h1v1h-1zM547 154h1v1h-1zM551 154h1v1h-1zM555 154h1v1h-1zM559 154h1v1h-1zM563 154h1v1h-1zM567 154h1v1h-1z" fill="#747474"/>
<path d="M38 177h1v1h-1zM42 177h1v1h-1zM46 177h1v1h-1zM50 177h1v1h-1zM54 177h1v1h-1zM58 177h1v1h-1zM62 177h1v1h-1zM66 177h1v1h-1zM70 177h1v1h-1zM74 177h1v1h-1zM78 177h1v1h-1zM82 177h1v1h-1zM86 177h1v1h-1zM90 177h1v1h-1zM94 177h1v1h-1zM98 177h1v1h-1zM102 177h1v1h-1zM106 177h1v1h-1zM110 177h1v1h-1zM114 177h1v1h-1zM118 177h1v1h-1zM122 177h1v1h-1zM126 177h1v1h-1zM130 177h1v1h-1zM134 177h1v1h-1zM138 177h1v1h-1zM142 177h1v1h-1zM146 177h1v1h-1zM150 177h1v1h-1zM154 177h1v1h-1zM158 177h1v1h-1zM162 177h1v1h-1zM166 177h1v1h-1zM170 177h1v1h-1zM174 177h1v1h-1zM178 177h1v1h-1zM182 177h1v1h-1zM186 177h1v1h-1zM190 177h1v1h-1zM194 177h1v1h-1zM198 177h1v1h-1zM202 177h1v1h-1zM206 177h1v1h-1zM210 177h1v1h-1zM214 177h1v1h-1zM218 177h1v1h-1zM222 177h1v1h-1zM226 177h1v1h-1zM230 177h1v1h-1zM234 177h1v1h-1zM238 177h1v1h-1zM242 177h1v1h-1zM246 177h1v1h-1zM250 177h1v1h-1zM254 177h1v1h-1zM258 177h1v1h-1zM262 177h1v1h-1zM266 177h1v1h-1zM270 177h1v1h-1zM274 177h1v1h-1zM278 177h1v1h-1zM282 177h1v1h-1zM286 177h1v1h-1zM290 177h1v1h-1zM294 177h1v1h-1zM298 177h1v1h-1zM302 177h1v1h-1zM306 177h1v1h-1zM310 177h1v1h-1zM314 177h1v1h-1zM318 177h1v1h-1zM322 177h1v1h-1zM326 177h1v1h-1zM330 177h1v1h-1zM334 177h1v1h-1zM338 177h1v1h-1zM342 177h1v1h-1zM346 177h1v1h-1zM350 177h1v1h-1zM354 177h1v1h-1zM358 177h1v1h-1zM362 177h1v1h-1zM366 177h1v1h-1zM370 177h1v1h-1zM374 177h1v1h-1zM378 177h1v1h-1zM382 177h1v1h-1zM386 177h1v1h-1zM390 177h1v1h-1zM394 177h1v1h-1zM398 177h1v1h-1zM402 177h1v1h-1zM406 177h1v1h-1zM410 177h1v1h-1zM414 177h1v1h-1zM418 177h1v1h-1zM422 177h1v1h-1zM426 177h1v1h-1zM430 177h1v1h-1zM434 177h1v1h-1zM438 177h1v1h-1zM442 177h1v1h-1zM446 177h1v1h-1zM450 177h1v1h-1zM454 177h1v1h-1zM458 177h1v1h-1zM462 177h1v1h-1zM466 177h1v1h-1zM470 177h1v1h-1zM474 177h1v1h-1zM478 177h1v1h-1zM482 177h1v1h-1zM486 177h1v1h-1zM490 177h1v1h-1zM494 177h1v1h-1zM498 177h1v1h-1zM502 177h1v1h-1zM506 177h1v1h-1zM510 177h1v1h-1zM514 177h1v1h-1zM518 177h1v1h-1zM522 177h1v1h-1zM526 177h1v1h-1zM530 177h1v1h-1zM534 177h1v1h-1zM538 177h1v1h-1zM542 177h1v1h-1zM546 177h1v1h-1zM550 177h1v1h-1zM554 177h1v1h-1zM558 177h1v1h-1zM562 177h1v1h-1zM566 177h1v1h-1z" fill="#747474"/>
<path d="M37 188h1v1h-1zM41 188h1v1h-1zM45 188h1v1h-1zM49 188h1v1h-1zM53 188h1v1h-1zM57 188h1v1h-1zM61 188h1v1h-1zM65 188h1v1h-1zM69 188h1v1h-1zM73 188h1v1h-1zM77 188h1v1h-1zM81 188h1v1h-1zM85 188h1v1h-1zM89 188h1v1h-1zM93 188h1v1h-1zM97 188h1v1h-1zM101 188h1v1h-1zM105 188h1v1h-1zM109 188h1v1h-1zM113 188h1v1h-1zM117 188h1v1h-1zM121 188h1v1h-1zM125 188h1v1h-1zM129 188h1v1h-1zM133 188h1v1h-1zM137 188h1v1h-1zM141 188h1v1h-1zM145 188h1v1h-1zM149 188h1v1h-1zM153 188h1v1h-1zM157 188h1v1h-1zM161 188h1v1h-1zM165 188h1v1h-1zM169 188h1v1h-1zM173 188h1v1h-1zM177 188h1v1h-1zM181 188h1v1h-1zM185 188h1v1h-1zM189 188h1v1h-1zM193 188h1v1h-1zM197 188h1v1h-1zM201 188h1v1h-1zM205 188h1v1h-1zM209 188h1v1h-1zM213 188h1v1h-1zM217 188h1v1h-1zM221 188h1v1h-1zM225 188h1v1h-1zM229 188h1v1h-1zM233 188h1v1h-1zM237 188h1v1h-1zM241 188h1v1h-1zM245 188h1v1h-1zM249 188h1v1h-1zM253 188h1v1h-1zM257 188h1v1h-1zM261 188h1v1h-1zM265 188h1v1h-1zM269 188h1v1h-1zM273 188h1v1h-1zM277 188h1v1h-1zM281 188h1v1h-1zM285 188h1v1h-1zM289 188h1v1h-1zM293 188h1v1h-1zM297 188h1v1h-1zM301 188h1v1h-1zM305 188h1v1h-1zM309 188h1v1h-1zM313 188h1v1h-1zM317 188h1v1h-1zM321 188h1v1h-1zM325 188h1v1h-1zM329 188h1v1h-1zM333 188h1v1h-1zM337 188h1v1h-1zM341 188h1v1h-1zM345 188h1v1h-1zM349 188h1v1h-1zM353 188h1v1h-1zM357 188h1v1h-1zM361 188h1v1h-1zM365 188h1v1h-1zM369 188h1v1h-1zM373 188h1v1h-1zM377 188h1v1h-1zM381 188h1v1h-1zM385 188h1v1h-1zM389 188h1v1h-1zM393 188h1v1h-1zM397 188h1v1h-1zM401 188h1v1h-1zM405 188h1v1h-1zM409 188h1v1h-1zM413 188h1v1h-1zM417 188h1v1h-1zM421 188h1v1h-1zM425 188h1v1h-1zM429 188h1v1h-1zM433 188h1v1h-1zM437 188h1v1h-1zM441 188h1v1h-1zM445 188h1v1h-1zM449 188h1v1h-1zM453 188h1v1h-1zM457 188h1v1h-1zM461 188h1v1h-1zM465 188h1v1h-1zM469 188h1v1h-1zM473 188h1v1h-1zM477 188h1v1h-1zM481 188h1v1h-1zM485 188h1v1h-1zM489 188h1v1h-1zM493 188h1v1h-1zM497 188h1v1h-1zM501 188h1v1h-1zM505 188h1v1h-1zM509 188h1v1h-1zM513 188h1v1h-1zM517 188h1v1h-1zM521 188h1v1h-1zM525 188h1v1h-1zM529 188h1v1h-1zM533 188h1v1h-1zM537 188h1v1h-1zM541 188h1v1h-1zM545 188h1v1h-1zM549 188h1v1h-1zM553 188h1v1h-1zM557 188h1v1h-1zM561 188h1v1h-1zM565 188h1v1h-1zM569 188h1v1h-1z" fill="#747474"/>
<path d="M112 138h1v1h-1zM112 142h1v1h-1zM112 146h1v1h-1zM112 150h1v1h-1zM112 154h1v1h-1zM112 158h1v1h-1zM112 162h1v1h-1zM112 166h1v1h-1zM112 170h1v1h-1zM112 174h1v1h-1zM112 178h1v1h-1zM112 182h1v1h-1zM112 186h1v1h-1zM112 190h1v1h-1zM112 194h1v1h-1zM112 198h1v1h-1zM112 202h1v1h-1zM112 206h1v1h-1zM112 210h1v1h-1zM112 214h1v1h-1zM112 218h1v1h-1zM112 222h1v1h-1zM112 226h1v1h-1zM112 230h1v1h-1z" fill="#747474"/>
<rect x="112" y="133" width="1" height="2" fill="#000"/>
<path d="M189 137h1v1h-1zM189 141h1v1h-1zM189 145h1v1h-1zM189 149h1v1h-1zM189 153h1v1h-1zM189 157h1v1h-1zM189 161h1v1h-1zM189 165h1v1h-1zM189 169h1v1h-1zM189 173h1v1h-1zM189 177h1v1h-1zM189 181h1v1h-1zM189 185h1v1h-1zM189 189h1v1h-1zM189 193h1v1h-1zM189 197h1v1h-1zM189 201h1v1h-1zM189 205h1v1h-1zM189 209h1v1h-1zM189 213h1v1h-1zM189 217h1v1h-1zM189 221h1v1h-1zM189 225h1v1h-1zM189 229h1v1h-1z" fill="#747474"/>
<rect x="189" y="133" width="1" height="2" fill="#000"/>
<path d="M265 136h1v1h-1zM265 140h1v1h-1zM265 144h1v1h-1zM265 148h1v1h-1zM265 152h1v1h-1zM265 156h1v1h-1zM265 160h1v1h-1zM265 164h1v1h-1zM265 168h1v1h-1zM265 172h1v1h-1zM265 176h1v1h-1zM265 180h1v1h-1zM265 184h1v1h-1zM265 188h1v1h-1zM265 192h1v1h-1zM265 196h1v1h-1zM265 200h1v1h-1zM265 204h1v1h-1zM265 208h1v1h-1zM265 212h1v1h-1zM265 216h1v1h-1zM265 220h1v1h-1zM265 224h1v1h-1zM265 228h1v1h-1zM265 232h1v1h-1z" fill="#747474"/>
<rect x="265" y="133" width="1" height="2" fill="#000"/>
<path d="M341 135h1v1h-1zM341 139h1v1h-1zM341 143h1v1h-1zM341 147h1v1h-1zM341 151h1v1h-1zM341 155h1v1h-1zM341 159h1v1h-1zM341 163h1v1h-1zM341 167h1v1h-1zM341 171h1v1h-1zM341 175h1v1h-1zM341 179h1v1h-1zM341 183h1v1h-1zM341 187h1v1h-1zM341 191h1v1h-1zM341 195h1v1h-1zM341 199h1v1h-1zM341 203h1v1h-1zM341 207h1v1h-1zM341 211h1v1h-1zM341 215h1v1h-1zM341 219h1v1h-1zM341 223h1v1h-1zM341 227h1v1h-1zM341 231h1v1h-1z" fill="#747474"/>
<rect x="341" y="133" width="1" height="2" fill="#000"/>
<path d="M417 138h1v1h-1zM417 142h1v1h-1zM417 146h1v1h-1zM417 150h1v1h-1zM417 154h1v1h-1zM417 158h1v1h-1zM417 162h1v1h-1zM417 166h1v1h-1zM417 170h1v1h-1zM417 174h1v1h-1zM417 178h1v1h-1zM417 182h1v1h-1zM417 186h1v1h-1zM417 190h1v1h-1zM417 194h1v1h-1zM417 198h1v1h-1zM417 202h1v1h-1zM417 206h1v1h-1zM417 210h1v1h-1zM417 214h1v1h-1zM417 218h1v1h-1zM417 222h1v1h-1zM417 226h1v1h-1zM417 230h1v1h-1z" fill="#747474"/>
<rect x="417" y="133" width="1" height="2" fill="#000"/>
<path d="M494 137h1v1h-1zM494 141h1v1h-1zM494 145h1v1h-1zM494 149h1v1h-1zM494 153h1v1h-1zM494 157h1v1h-1zM494 161h1v1h-1zM494 165h1v1h-1zM494 169h1v1h-1zM494 173h1v1h-1zM494 177h1v1h-1zM494 181h1v1h-1zM494 185h1v1h-1zM494 189h1v1h-1zM494 193h1v1h-1zM494 197h1v1h-1zM494 201h1v1h-1zM494 205h1v1h-1zM494 209h1v1h-1zM494 213h1v1h-1zM494 217h1v1h-1zM494 221h1v1h-1zM494 225h1v1h-1zM494 229h1v1h-1z" fill="#747474"/>
<rect x="494" y="133" width="1" height="2" fill="#000"/>
<path d="M570 136h1v1h-1zM570 140h1v1h-1zM570 144h1v1h-1zM570 148h1v1h-1zM570 152h1v1h-1zM570 156h1v1h-1zM570 160h1v1h-1zM570 164h1v1h-1zM570 168h1v1h-1zM570 172h1v1h-1zM570 176h1v1h-1zM570 180h1v1h-1zM570 184h1v1h-1zM570 188h1v1h-1zM570 192h1v1h-1zM570 196h1v1h-1zM570 200h1v1h-1zM570 204h1v1h-1zM570 208h1v1h-1zM570 212h1v1h-1zM570 216h1v1h-1zM570 220h1v1h-1zM570 224h1v1h-1zM570 228h1v1h-1zM570 232h1v1h-1z" fill="#747474"/>
<rect x="36" y="234" width="535" height="1" fill="#000"/>
<rect x="36" y="244" width="535" height="1" fill="#000"/>
<rect x="36" y="244" width="1" height="103" fill="#000"/>
<rect x="570" y="244" width="1" height="103" fill="#000"/>
<rect x="36" y="323" width="11" height="23" fill="#ffc400"/>
<rect x="37" y="324" width="9" height="22" fill="#008f00"/>
<rect x="46" y="323" width="10" height="23" fill="#ffc400"/>
<rect x="47" y="324" width="8" height="22" fill="#008f00"/>
<rect x="55" y="344" width="11" height="2" fill="#ffc400"/>
<rect x="56" y="345" width="9" height="1" fill="#008f00"/>
<rect x="65" y="344" width="10" height="2" fill="#ffc400"/>
<rect x="66" y="345" width="8" height="1" fill="#008f00"/>
<rect x="74" y="334" width="11" height="12" fill="#ffc400"/>
<rect x="75" y="335" width="9" height="11" fill="#008f00"/>
<rect x="84" y="334" width="10" height="12" fill="#ffc400"/>
<rect x="85" y="335" width="8" height="11" fill="#008f00"/>
<rect x="93" y="334" width="11" height="12" fill="#ffc400"/>
<rect x="94" y="335" width="9" height="11" fill="#008f00"/>
<rect x="103" y="334" width="10" height="12" fill="#ffc400"/>
<rect x="104" y="335" width="8" height="11" fill="#008f00"/>
<rect x="112" y="334" width="11" height="12" fill="#ffc400"/>
<rect x="113" y="335" width="9" height="11" fill="#008f00"/>
<rect x="122" y="344" width="10" height="2" fill="#ffc400"/>
<rect x="123" y="345" width="8" height="1" fill="#008f00"/>
<rect x="131" y="344" width="11" height="2" fill="#ffc400"/>
<rect x="132" y="345" width="9" height="1" fill="#008f00"/>
<rect x="141" y="334" width="10" height="12" fill="#ffc400"/>
<rect x="142" y="335" width="8" height="11" fill="#008f00"/>
<rect x="150" y="323" width="11" height="23" fill="#ffc400"/>
<rect x="151" y="324" width="9" height="22" fill="#008f00"/>
<rect x="160" y="334" width="11" height="12" fill="#ffc400"/>
<rect x="161" y="335" width="9" height="11" fill="#008f00"/>
<rect x="170" y="334" width="10" height="12" fill="#ffc400"/>
<rect x="171" y="335" width="8" height="11" fill="#008f00"/>
<rect x="179" y="323" width="11" height="23" fill="#ffc400"/>
<rect x="180" y="324" width="9" height="22" fill="#008f00"/>
<rect x="189" y="323" width="10" height="23" fill="#ffc400"/>
<rect x="190" y="324" width="8" height="22" fill="#008f00"/>
<rect x="198" y="334" width="11" height="12" fill="#ffc400"/>
<rect x="199" y="335" width="9" height="11" fill="#008f00"/>
<rect x="208" y="334" width="10" height="12" fill="#ffc400"/>
<rect x="209" y="335" width="8" height="11" fill="#008f00"/>
<rect x="217" y="334" width="11" height="12" fill="#ffc400"/>
<rect x="218" y="335" width="9" height="11" fill="#008f00"/>
<rect x="227" y="323" width="10" height="23" fill="#ffc400"/>
<rect x="228" y="324" width="8" height="22" fill="#008f00"/>
<rect x="236" y="323" width="11" height="23" fill="#ffc400"/>
<rect x="237" y="324" width="9" height="22" fill="#008f00"/>
<rect x="246" y="334" width="10" height="12" fill="#ffc400"/>
<rect x="247" y="335" width="8" height="11" fill="#008f00"/>
<rect x="255" y="323" width="11" height="23" fill="#ffc400"/>
<rect x="256" y="324" width="9" height="22" fill="#008f00"/>
<rect x="265" y="334" width="10" height="12" fill="#ffc400"/>
<rect x="266" y="335" width="8" height="11" fill="#008f00"/>
<rect x="274" y="334" width="11" height="12" fill="#ffc400"/>
<rect x="275" y="335" width="9" height="11" fill="#008f00"/>
<rect x="284" y="334" width="10" height="12" fill="#ffc400"/>
<rect x="285" y="335" width="8" height="11" fill="#008f00"/>
<rect x="293" y="344" width="11" height="2" fill="#ffc400"/>
<rect x="294" y="345" width="9" height="1" fill="#008f00"/>
<rect x="303" y="334" width="11" height="12" fill="#ffc400"/>
<rect x="304" y="335" width="9" height="11" fill="#008f00"/>
<rect x="313" y="334" width="10" height="12" fill="#ffc400"/>
<rect x="314" y="335" width="8" height="11" fill="#008f00"/>
<rect x="322" y="334" width="11" height="12" fill="#ffc400"/>
<rect x="323" y="335" width="9" height="11" fill="#008f00"/>
<rect x="332" y="323" width="10" height="23" fill="#ffc400"/>
<rect x="333" y="324" width="8" height="22" fill="#008f00"/>
<rect x="341" y="323" width="11" height="23" fill="#ffc400"/>
<rect x="342" y="324" width="9" height="22" fill="#008f00"/>
<rect x="351" y="323" width="10" height="23" fill="#ffc400"/>
<rect x="352" y="324" width="8" height="22" fill="#008f00"/>
<rect x="360" y="334" width="11" height="12" fill="#ffc400"/>
<rect x="361" y="335" width="9" height="11" fill="#008f00"/>
<rect x="370" y="344" width="10" height="2" fill="#ffc400"/>
<rect x="371" y="345" width="8" height="1" fill="#008f00"/>
<rect x="379" y="323" width="11" height="23" fill="#ffc400"/>
<rect x="380" y="324" width="9" height="22" fill="#008f00"/>
<rect x="389" y="323" width="10" height="23" fill="#ffc400"/>
<rect x="390" y="324" width="8" height="22" fill="#008f00"/>
<rect x="398" y="323" width="11" height="23" fill="#ffc400"/>
<rect x="399" y="324" width="9" height="22" fill="#008f00"/>
<rect x="408" y="323" width="10" height="23" fill="#ffc400"/>
<rect x="409" y="324" width="8" height="22" fill="#008f00"/>
<rect x="417" y="334" width="11" height="12" fill="#ffc400"/>
<rect x="418" y="335" width="9" height="11" fill="#008f00"/>
<rect x="427" y="323" width="11" height="23" fill="#ffc400"/>
<rect x="428" y="324" width="9" height="22" fill="#008f00"/>
<rect x="437" y="323" width="10" height="23" fill="#ffc400"/>
<rect x="438" y="324" width="8" height="22" fill="#008f00"/>
<rect x="446" y="323" width="11" height="23" fill="#ffc400"/>
<rect x="447" y="324" width="9" height="22" fill="#008f00"/>
<rect x="456" y="312" width="10" height="34" fill="#ffc400"/>
<rect x="457" y="313" width="8" height="33" fill="#008f00"/>
<rect x="465" y="312" width="11" height="34" fill="#ffc400"/>
<rect x="466" y="313" width="9" height="33" fill="#008f00"/>
<rect x="475" y="312" width="10" height="34" fill="#ffc400"/>
<rect x="476" y="313" width="8" height="33" fill="#008f00"/>
<rect x="484" y="312" width="11" height="34" fill="#ffc400"/>
<rect x="485" y="313" width="9" height="33" fill="#008f00"/>
<rect x="494" y="300" width="10" height="46" fill="#ffc400"/>
<rect x="495" y="301" width="8" height="45" fill="#f2bf06"/>
<rect x="503" y="312" width="11" height="34" fill="#ffc400"/>
<rect x="504" y="313" width="9" height="33" fill="#008f00"/>
<rect x="513" y="278" width="10" height="68" fill="#ffc400"/>
<rect x="514" y="279" width="8" height="67" fill="#ff0000"/>
<rect x="522" y="278" width="11" height="68" fill="#ffc400"/>
<rect x="523" y="279" width="9" height="67" fill="#ff0000"/>
<rect x="532" y="278" width="10" height="68" fill="#ffc400"/>
<rect x="533" y="279" width="8" height="67" fill="#ff0000"/>
<rect x="41" y="344" width="1" height="2" fill="#ffc400"/>
<rect x="50" y="344" width="1" height="2" fill="#ffc400"/>
<rect x="60" y="344" width="1" height="2" fill="#ffc400"/>
<rect x="69" y="344" width="1" height="2" fill="#ffc400"/>
<rect x="79" y="344" width="1" height="2" fill="#ffc400"/>
<rect x="88" y="344" width="1" height="2" fill="#ffc400"/>
<rect x="98" y="344" width="1" height="2" fill="#ffc400"/>
<rect x="108" y="344" width="1" height="2" fill="#ffc400"/>
<rect x="117" y="344" width="1" height="2" fill="#ffc400"/>
<rect x="127" y="344" width="1" height="2" fill="#ffc400"/>
<rect x="136" y="344" width="1" height="2" fill="#ffc400"/>
<rect x="146" y="344" width="1" height="2" fill="#ffc400"/>
<rect x="155" y="344" width="1" height="2" fill="#ffc400"/>
<rect x="165" y="344" width="1" height="2" fill="#ffc400"/>
<rect x="174" y="344" width="1" height="2" fill="#ffc400"/>
<rect x="184" y="344" width="1" height="2" fill="#ffc400"/>
<rect x="193" y="344" width="1" height="2" fill="#ffc400"/>
<rect x="203" y="344" width="1" height="2" fill="#ffc400"/>
<rect x="212" y="344" width="1" height="2" fill="#ffc400"/>
<rect x="222" y="344" width="1" height="2" fill="#ffc400"/>
<rect x="231" y="344" width="1" height="2" fill="#ffc400"/>
<rect x="241" y="344" width="1" height="2" fill="#ffc400"/>
<rect x="251" y="344" width="1" height="2" fill="#ffc400"/>
<rect x="260" y="344" width="1" height="2" fill="#ffc400"/>
<rect x="270" y="344" width="1" height="2" fill="#ffc400"/>
<rect x="279" y="344" width="1" height="2" fill="#ffc400"/>
<rect x="289" y="344" width="1" height="2" fill="#ffc400"/>
<rect x="298" y="344" width="1" height="2" fill="#ffc400"/>
<rect x="308" y="344" width="1" height="2" fill="#ffc400"/>
<rect x="317" y="344" width="1" height="2" fill="#ffc400"/>
<rect x="327" y="344" width="1" height="2" fill="#ffc400"/>
<rect x="336" y="344" width="1" height="2" fill="#ffc400"/>
<rect x="346" y="344" width="1" height="2" fill="#ffc400"/>
<rect x="355" y="344" width="1" height="2" fill="#ffc400"/>
<rect x="365" y="344" width="1" height="2" fill="#ffc400"/>
<rect x="375" y="344" width="1" height="2" fill="#ffc400"/>
<rect x="384" y="344" width="1" height="2" fill="#ffc400"/>
<rect x="394" y="344" width="1" height="2" fill="#ffc400"/>
<rect x="403" y="344" width="1" height="2" fill="#ffc400"/>
<rect x="413" y="344" width="1" height="2" fill="#ffc400"/>
<rect x="422" y="344" width="1" height="2" fill="#ffc400"/>
<rect x="432" y="344" width="1" height="2" fill="#ffc400"/>
<rect x="441" y="344" width="1" height="2" fill="#ffc400"/>
<rect x="451" y="344" width="1" height="2" fill="#ffc400"/>
<rect x="460" y="344" width="1" height="2" fill="#ffc400"/>
<rect x="470" y="344" width="1" height="2" fill="#ffc400"/>
<rect x="479" y="344" width="1" height="2" fill="#ffc400"/>
<rect x="489" y="344" width="1" height="2" fill="#ffc400"/>
<rect x="498" y="344" width="1" height="2" fill="#ffc400"/>
<rect x="508" y="344" width="1" height="2" fill="#ffc400"/>
<rect x="518" y="344" width="1" height="2" fill="#ffc400"/>
<rect x="527" y="344" width="1" height="2" fill="#ffc400"/>
<rect x="537" y="344" width="1" height="2" fill="#ffc400"/>
<rect x="546" y="344" width="1" height="2" fill="#ffc400"/>
<rect x="556" y="344" width="1" height="2" fill="#ffc400"/>
<rect x="565" y="344" width="1" height="2" fill="#ffc400"/>
<path d="M37 266h1v1h-1zM41 266h1v1h-1zM45 266h1v1h-1zM49 266h1v1h-1zM53 266h1v1h-1zM57 266h1v1h-1zM61 266h1v1h-1zM65 266h1v1h-1zM69 266h1v1h-1zM73 266h1v1h-1zM77 266h1v1h-1zM81 266h1v1h-1zM85 266h1v1h-1zM89 266h1v1h-1zM93 266h1v1h-1zM97 266h1v1h-1zM101 266h1v1h-1zM105 266h1v1h-1zM109 266h1v1h-1zM113 266h1v1h-1zM117 266h1v1h-1zM121 266h1v1h-1zM125 266h1v1h-1zM129 266h1v1h-1zM133 266h1v1h-1zM137 266h1v1h-1zM141 266h1v1h-1zM145 266h1v1h-1zM149 266h1v1h-1zM153 266h1v1h-1zM157 266h1v1h-1zM161 266h1v1h-1zM165 266h1v1h-1zM169 266h1v1h-1zM173 266h1v1h-1zM177 266h1v1h-1zM181 266h1v1h-1zM185 266h1v1h-1zM189 266h1v1h-1zM193 266h1v1h-1zM197 266h1v1h-1zM201 266h1v1h-1zM205 266h1v1h-1zM209 266h1v1h-1zM213 266h1v1h-1zM217 266h1v1h-1zM221 266h1v1h-1zM225 266h1v1h-1zM229 266h1v1h-1zM233 266h1v1h-1zM237 266h1v1h-1zM241 266h1v1h-1zM245 266h1v1h-1zM249 266h1v1h-1zM253 266h1v1h-1zM257 266h1v1h-1zM261 266h1v1h-1zM265 266h1v1h-1zM269 266h1v1h-1zM273 266h1v1h-1zM277 266h1v1h-1zM281 266h1v1h-1zM285 266h1v1h-1zM289 266h1v1h-1zM293 266h1v1h-1zM297 266h1v1h-1zM301 266h1v1h-1zM305 266h1v1h-1zM309 266h1v1h-1zM313 266h1v1h-1zM317 266h1v1h-1zM321 266h1v1h-1zM325 266h1v1h-1zM329 266h1v1h-1zM333 266h1v1h-1zM337 266h1v1h-1zM341 266h1v1h-1zM345 266h1v1h-1zM349 266h1v1h-1zM353 266h1v1h-1zM357 266h1v1h-1zM361 266h1v1h-1zM365 266h1v1h-1zM369 266h1v1h-1zM373 266h1v1h-1zM377 266h1v1h-1zM381 266h1v1h-1zM385 266h1v1h-1zM389 266h1v1h-1zM393 266h1v1h-1zM397 266h1v1h-1zM401 266h1v1h-1zM405 266h1v1h-1zM409 266h1v1h-1zM413 266h1v1h-1zM417 266h1v1h-1zM421 266h1v1h-1zM425 266h1v1h-1zM429 266h1v1h-1zM433 266h1v1h-1zM437 266h1v1h-1zM441 266h1v1h-1zM445 266h1v1h-1zM449 266h1v1h-1zM453 266h1v1h-1zM457 266h1v1h-1zM461 266h1v1h-1zM465 266h1v1h-1zM469 266h1v1h-1zM473 266h1v1h-1zM477 266h1v1h-1zM481 266h1v1h-1zM485 266h1v1h-1zM489 266h1v1h-1zM493 266h1v1h-1zM497 266h1v1h-1zM501 266h1v1h-1zM505 266h1v1h-1zM509 266h1v1h-1zM513 266h1v1h-1zM517 266h1v1h-1zM521 266h1v1h-1zM525 266h1v1h-1zM529 266h1v1h-1zM533 266h1v1h-1zM537 266h1v1h-1zM541 266h1v1h-1zM545 266h1v1h-1zM549 266h1v1h-1zM553 266h1v1h-1zM557 266h1v1h-1zM561 266h1v1h-1zM565 266h1v1h-1zM569 266h1v1h-1z" fill="#747474"/>
<path d="M40 289h1v1h-1zM44 289h1v1h-1zM48 289h1v1h-1zM52 289h1v1h-1zM56 289h1v1h-1zM60 289h1v1h-1zM64 289h1v1h-1zM68 289h1v1h-1zM72 289h1v1h-1zM76 289h1v1h-1zM80 289h1v1h-1zM84 289h1v1h-1zM88 289h1v1h-1zM92 289h1v1h-1zM96 289h1v1h-1zM100 289h1v1h-1zM104 289h1v1h-1zM108 289h1v1h-1zM112 289h1v1h-1zM116 289h1v1h-1zM120 289h1v1h-1zM124 289h1v1h-1zM128 289h1v1h-1zM132 289h1v1h-1zM136 289h1v1h-1zM140 289h1v1h-1zM144 289h1v1h-1zM148 289h1v1h-1zM152 289h1v1h-1zM156 289h1v1h-1zM160 289h1v1h-1zM164 289h1v1h-1zM168 289h1v1h-1zM172 289h1v1h-1zM176 289h1v1h-1zM180 289h1v1h-1zM184 289h1v1h-1zM188 289h1v1h-1zM192 289h1v1h-1zM196 289h1v1h-1zM200 289h1v1h-1zM204 289h1v1h-1zM208 289h1v1h-1zM212 289h1v1h-1zM216 289h1v1h-1zM220 289h1v1h-1zM224 289h1v1h-1zM228 289h1v1h-1zM232 289h1v1h-1zM236 289h1v1h-1zM240 289h1v1h-1zM244 289h1v1h-1zM248 289h1v1h-1zM252 289h1v1h-1zM256 289h1v1h-1zM260 289h1v1h-1zM264 289h1v1h-1zM268 289h1v1h-1zM272 289h1v1h-1zM276 289h1v1h-1zM280 289h1v1h-1zM284 289h1v1h-1zM288 289h1v1h-1zM292 289h1v1h-1zM296 289h1v1h-1zM300 289h1v1h-1zM304 289h1v1h-1zM308 289h1v1h-1zM312 289h1v1h-1zM316 289h1v1h-1zM320 289h1v1h-1zM324 289h1v1h-1zM328 289h1v1h-1zM332 289h1v1h-1zM336 289h1v1h-1zM340 289h1v1h-1zM344 289h1v1h-1zM348 289h1v1h-1zM352 289h1v1h-1zM356 289h1v1h-1zM360 289h1v1h-1zM364 289h1v1h-1zM368 289h1v1h-1zM372 289h1v1h-1zM376 289h1v1h-1zM380 289h1v1h-1zM384 289h1v1h-1zM388 289h1v1h-1zM392 289h1v1h-1zM396 289h1v1h-1zM400 289h1v1h-1zM404 289h1v1h-1zM408 289h1v1h-1zM412 289h1v1h-1zM416 289h1v1h-1zM420 289h1v1h-1zM424 289h1v1h-1zM428 289h1v1h-1zM432 289h1v1h-1zM436 289h1v1h-1zM440 289h1v1h-1zM444 289h1v1h-1zM448 289h1v1h-1zM452 289h1v1h-1zM456 289h1v1h-1zM460 289h1v1h-1zM464 289h1v1h-1zM468 289h1v1h-1zM472 289h1v1h-1zM476 289h1v1h-1zM480 289h1v1h-1zM484 289h1v1h-1zM488 289h1v1h-1zM492 289h1v1h-1zM496 289h1v1h-1zM500 289h1v1h-1zM504 289h1v1h-1zM508 289h1v1h-1zM512 289h1v1h-1zM516 289h1v1h-1zM520 289h1v1h-1zM524 289h1v1h-1zM528 289h1v1h-1zM532 289h1v1h-1zM536 289h1v1h-1zM540 289h1v1h-1zM544 289h1v1h-1zM548 289h1v1h-1zM552 289h1v1h-1zM556 289h1v1h-1zM560 289h1v1h-1zM564 289h1v1h-1zM568 289h1v1h-1z" fill="#747474"/>
<path d="M39 300h1v1h-1zM43 300h1v1h-1zM47 300h1v1h-1zM51 300h1v1h-1zM55 300h1v1h-1zM59 300h1v1h-1zM63 300h1v1h-1zM67 300h1v1h-1zM71 300h1v1h-1zM75 300h1v1h-1zM79 300h1v1h-1zM83 300h1v1h-1zM87 300h1v1h-1zM91 300h1v1h-1zM95 300h1v1h-1zM99 300h1v1h-1zM103 300h1v1h-1zM107 300h1v1h-1zM111 300h1v1h-1zM115 300h1v1h-1zM119 300h1v1h-1zM123 300h1v1h-1zM127 300h1v1h-1zM131 300h1v1h-1zM135 300h1v1h-1zM139 300h1v1h-1zM143 300h1v1h-1zM147 300h1v1h-1zM151 300h1v1h-1zM155 300h1v1h-1zM159 300h1v1h-1zM163 300h1v1h-1zM167 300h1v1h-1zM171 300h1v1h-1zM175 300h1v1h-1zM179 300h1v1h-1zM183 300h1v1h-1zM187 300h1v1h-1zM191 300h1v1h-1zM195 300h1v1h-1zM199 300h1v1h-1zM203 300h1v1h-1zM207 300h1v1h-1zM211 300h1v1h-1zM215 300h1v1h-1zM219 300h1v1h-1zM223 300h1v1h-1zM227 300h1v1h-1zM231 300h1v1h-1zM235 300h1v1h-1zM239 300h1v1h-1zM243 300h1v1h-1zM247 300h1v1h-1zM251 300h1v1h-1zM255 300h1v1h-1zM259 300h1v1h-1zM263 300h1v1h-1zM267 300h1v1h-1zM271 300h1v1h-1zM275 300h1v1h-1zM279 300h1v1h-1zM283 300h1v1h-1zM287 300h1v1h-1zM291 300h1v1h-1zM295 300h1v1h-1zM299 300h1v1h-1zM303 300h1v1h-1zM307 300h1v1h-1zM311 300h1v1h-1zM315 300h1v1h-1zM319 300h1v1h-1zM323 300h1v1h-1zM327 300h1v1h-1zM331 300h1v1h-1zM335 300h1v1h-1zM339 300h1v1h-1zM343 300h1v1h-1zM347 300h1v1h-1zM351 300h1v1h-1zM355 300h1v1h-1zM359 300h1v1h-1zM363 300h1v1h-1zM367 300h1v1h-1zM371 300h1v1h-1zM375 300h1v1h-1zM379 300h1v1h-1zM383 300h1v1h-1zM387 300h1v1h-1zM391 300h1v1h-1zM395 300h1v1h-1zM399 300h1v1h-1zM403 300h1v1h-1zM407 300h1v1h-1zM411 300h1v1h-1zM415 300h1v1h-1zM419 300h1v1h-1zM423 300h1v1h-1zM427 300h1v1h-1zM431 300h1v1h-1zM435 300h1v1h-1zM439 300h1v1h-1zM443 300h1v1h-1zM447 300h1v1h-1zM451 300h1v1h-1zM455 300h1v1h-1zM459 300h1v1h-1zM463 300h1v1h-1zM467 300h1v1h-1zM471 300h1v1h-1zM475 300h1v1h-1zM479 300h1v1h-1zM483 300h1v1h-1zM487 300h1v1h-1zM491 300h1v1h-1zM495 300h1v1h-1zM499 300h1v1h-1zM503 300h1v1h-1zM507 300h1v1h-1zM511 300h1v1h-1zM515 300h1v1h-1zM519 300h1v1h-1zM523 300h1v1h-1zM527 300h1v1h-1zM531 300h1v1h-1zM535 300h1v1h-1zM539 300h1v1h-1zM543 300h1v1h-1zM547 300h1v1h-1zM551 300h1v1h-1zM555 300h1v1h-1zM559 300h1v1h-1zM563 300h1v1h-1zM567 300h1v1h-1z" fill="#747474"/>
<path d="M112 250h1v1h-1zM112 254h1v1h-1zM112 258h1v1h-1zM112 262h1v1h-1zM112 266h1v1h-1zM112 270h1v1h-1zM112 274h1v1h-1zM112 278h1v1h-1zM112 282h1v1h-1zM112 286h1v1h-1zM112 290h1v1h-1zM112 294h1v1h-1zM112 298h1v1h-1zM112 302h1v1h-1zM112 306h1v1h-1zM112 310h1v1h-1zM112 314h1v1h-1zM112 318h1v1h-1zM112 322h1v1h-1zM112 326h1v1h-1zM112 330h1v1h-1zM112 334h1v1h-1zM112 338h1v1h-1zM112 342h1v1h-1z" fill="#747474"/>
<rect x="112" y="245" width="1" height="2" fill="#000"/>
<path d="M189 249h1v1h-1zM189 253h1v1h-1zM189 257h1v1h-1zM189 261h1v1h-1zM189 265h1v1h-1zM189 269h1v1h-1zM189 273h1v1h-1zM189 277h1v1h-1zM189 281h1v1h-1zM189 285h1v1h-1zM189 289h1v1h-1zM189 293h1v1h-1zM189 297h1v1h-1zM189 301h1v1h-1zM189 305h1v1h-1zM189 309h1v1h-1zM189 313h1v1h-1zM189 317h1v1h-1zM189 321h1v1h-1zM189 325h1v1h-1zM189 329h1v1h-1zM189 333h1v1h-1zM189 337h1v1h-1zM189 341h1v1h-1z" fill="#747474"/>
<rect x="189" y="245" width="1" height="2" fill="#000"/>
<path d="M265 248h1v1h-1zM265 252h1v1h-1zM265 256h1v1h-1zM265 260h1v1h-1zM265 264h1v1h-1zM265 268h1v1h-1zM265 272h1v1h-1zM265 276h1v1h-1zM265 280h1v1h-1zM265 284h1v1h-1zM265 288h1v1h-1zM265 292h1v1h-1zM265 296h1v1h-1zM265 300h1v1h-1zM265 304h1v1h-1zM265 308h1v1h-1zM265 312h1v1h-1zM265 316h1v1h-1zM265 320h1v1h-1zM265 324h1v1h-1zM265 328h1v1h-1zM265 332h1v1h-1zM265 336h1v1h-1zM265 340h1v1h-1zM265 344h1v1h-1z" fill="#747474"/>
<rect x="265" y="245" width="1" height="2" fill="#000"/>
<path d="M341 247h1v1h-1zM341 251h1v1h-1zM341 255h1v1h-1zM341 259h1v1h-1zM341 263h1v1h-1zM341 267h1v1h-1zM341 271h1v1h-1zM341 275h1v1h-1zM341 279h1v1h-1zM341 283h1v1h-1zM341 287h1v1h-1zM341 291h1v1h-1zM341 295h1v1h-1zM341 299h1v1h-1zM341 303h1v1h-1zM341 307h1v1h-1zM341 311h1v1h-1zM341 315h1v1h-1zM341 319h1v1h-1zM341 323h1v1h-1zM341 327h1v1h-1zM341 331h1v1h-1zM341 335h1v1h-1zM341 339h1v1h-1zM341 343h1v1h-1z" fill="#747474"/>
<rect x="341" y="245" width="1" height="2" fill="#000"/>
<path d="M417 250h1v1h-1zM417 254h1v1h-1zM417 258h1v1h-1zM417 262h1v1h-1zM417 266h1v1h-1zM417 270h1v1h-1zM417 274h1v1h-1zM417 278h1v1h-1zM417 282h1v1h-1zM417 286h1v1h-1zM417 290h1v1h-1zM417 294h1v1h-1zM417 298h1v1h-1zM417 302h1v1h-1zM417 306h1v1h-1zM417 310h1v1h-1zM417 314h1v1h-1zM417 318h1v1h-1zM417 322h1v1h-1zM417 326h1v1h-1zM417 330h1v1h-1zM417 334h1v1h-1zM417 338h1v1h-1zM417 342h1v1h-1z" fill="#747474"/>
<rect x="417" y="245" width="1" height="2" fill="#000"/>
<path d="M494 249h1v1h-1zM494 253h1v1h-1zM494 257h1v1h-1zM494 261h1v1h-1zM494 265h1v1h-1zM494 269h1v1h-1zM494 273h1v1h-1zM494 277h1v1h-1zM494 281h1v1h-1zM494 285h1v1h-1zM494 289h1v1h-1zM494 293h1v1h-1zM494 297h1v1h-1zM494 301h1v1h-1zM494 305h1v1h-1zM494 309h1v1h-1zM494 313h1v1h-1zM494 317h1v1h-1zM494 321h1v1h-1zM494 325h1v1h-1zM494 329h1v1h-1zM494 333h1v1h-1zM494 337h1v1h-1zM494 341h1v1h-1z" fill="#747474"/>
<rect x="494" y="245" width="1" height="2" fill="#000"/>
<path d="M570 248h1v1h-1zM570 252h1v1h-1zM570 256h1v1h-1zM570 260h1v1h-1zM570 264h1v1h-1zM570 268h1v1h-1zM570 272h1v1h-1zM570 276h1v1h-1zM570 280h1v1h-1zM570 284h1v1h-1zM570 288h1v1h-1zM570 292h1v1h-1zM570 296h1v1h-1zM570 300h1v1h-1zM570 304h1v1h-1zM570 308h1v1h-1zM570 312h1v1h-1zM570 316h1v1h-1zM570 320h1v1h-1zM570 324h1v1h-1zM570 328h1v1h-1zM570 332h1v1h-1zM570 336h1v1h-1zM570 340h1v1h-1zM570 344h1v1h-1z" fill="#747474"/>
<rect x="36" y="346" width="535" height="1" fill="#000"/>
<rect x="36" y="356" width="535" height="1" fill="#000"/>
<rect x="36" y="356" width="1" height="103" fill="#000"/>
<rect x="570" y="356" width="1" height="103" fill="#000"/>
<rect x="36" y="435" width="11" height="23" fill="#ffc400"/>
<rect x="37" y="436" width="9" height="22" fill="#008f00"/>
<rect x="46" y="435" width="10" height="23" fill="#ffc400"/>
<rect x="47" y="436" width="8" height="22" fill="#008f00"/>
<rect x="55" y="456" width="11" height="2" fill="#ffc400"/>
<rect x="56" y="457" width="9" height="1" fill="#008f00"/>
<rect x="65" y="456" width="10" height="2" fill="#ffc400"/>
<rect x="66" y="457" width="8" height="1" fill="#008f00"/>
<rect x="74" y="456" width="11" height="2" fill="#ffc400"/>
<rect x="75" y="457" width="9" height="1" fill="#008f00"/>
<rect x="84" y="447" width="10" height="11" fill="#ffc400"/>
<rect x="85" y="448" width="8" height="10" fill="#008f00"/>
<rect x="93" y="447" width="11" height="11" fill="#ffc400"/>
<rect x="94" y="448" width="9" height="10" fill="#008f00"/>
<rect x="103" y="447" width="10" height="11" fill="#ffc400"/>
<rect x="104" y="448" width="8" height="10" fill="#008f00"/>
<rect x="112" y="435" width="11" height="23" fill="#ffc400"/>
<rect x="113" y="436" width="9" height="22" fill="#008f00"/>
<rect x="122" y="456" width="10" height="2" fill="#ffc400"/>
<rect x="123" y="457" width="8" height="1" fill="#008f00"/>
<rect x="131" y="456" width="11" height="2" fill="#ffc400"/>
<rect x="132" y="457" width="9" height="1" fill="#008f00"/>
<rect x="141" y="447" width="10" height="11" fill="#ffc400"/>
<rect x="142" y="448" width="8" height="10" fill="#008f00"/>
<rect x="150" y="424" width="11" height="34" fill="#ffc400"/>
<rect x="151" y="425" width="9" height="33" fill="#008f00"/>
<rect x="160" y="456" width="11" height="2" fill="#ffc400"/>
<rect x="161" y="457" width="9" height="1" fill="#008f00"/>
<rect x="170" y="435" width="10" height="23" fill="#ffc400"/>
<rect x="171" y="436" width="8" height="22" fill="#008f00"/>
<rect x="179" y="435" width="11" height="23" fill="#ffc400"/>
<rect x="180" y="436" width="9" height="22" fill="#008f00"/>
<rect x="189" y="447" width="10" height="11" fill="#ffc400"/>
<rect x="190" y="448" width="8" height="10" fill="#008f00"/>
<rect x="198" y="435" width="11" height="23" fill="#ffc400"/>
<rect x="199" y="436" width="9" height="22" fill="#008f00"/>
<rect x="208" y="447" width="10" height="11" fill="#ffc400"/>
<rect x="209" y="448" width="8" height="10" fill="#008f00"/>
<rect x="217" y="447" width="11" height="11" fill="#ffc400"/>
<rect x="218" y="448" width="9" height="10" fill="#008f00"/>
<rect x="227" y="424" width="10" height="34" fill="#ffc400"/>
<rect x="228" y="425" width="8" height="33" fill="#008f00"/>
<rect x="236" y="447" width="11" height="11" fill="#ffc400"/>
<rect x="237" y="448" width="9" height="10" fill="#008f00"/>
<rect x="246" y="447" width="10" height="11" fill="#ffc400"/>
<rect x="247" y="448" width="8" height="10" fill="#008f00"/>
<rect x="255" y="447" width="11" height="11" fill="#ffc400"/>
<rect x="256" y="448" width="9" height="10" fill="#008f00"/>
<rect x="265" y="435" width="10" height="23" fill="#ffc400"/>
<rect x="266" y="436" width="8" height="22" fill="#008f00"/>
<rect x="274" y="447" width="11" height="11" fill="#ffc400"/>
<rect x="275" y="448" width="9" height="10" fill="#008f00"/>
<rect x="284" y="447" width="10" height="11" fill="#ffc400"/>
<rect x="285" y="448" width="8" height="10" fill="#008f00"/>
<rect x="293" y="456" width="11" height="2" fill="#ffc400"/>
<rect x="294" y="457" width="9" height="1" fill="#008f00"/>
<rect x="303" y="456" width="11" height="2" fill="#ffc400"/>
<rect x="304" y="457" width="9" height="1" fill="#008f00"/>
<rect x="313" y="456" width="10" height="2" fill="#ffc400"/>
<rect x="314" y="457" width="8" height="1" fill="#008f00"/>
<rect x="322" y="456" width="11" height="2" fill="#ffc400"/>
<rect x="323" y="457" width="9" height="1" fill="#008f00"/>
<rect x="332" y="447" width="10" height="11" fill="#ffc400"/>
<rect x="333" y="448" width="8" height="10" fill="#008f00"/>
<rect x="341" y="447" width="11" height="11" fill="#ffc400"/>
<rect x="342" y="448" width="9" height="10" fill="#008f00"/>
<rect x="351" y="435" width="10" height="23" fill="#ffc400"/>
<rect x="352" y="436" width="8" height="22" fill="#008f00"/>
<rect x="360" y="447" width="11" height="11" fill="#ffc400"/>
<rect x="361" y="448" width="9" height="10" fill="#008f00"/>
<rect x="370" y="447" width="10" height="11" fill="#ffc400"/>
<rect x="371" y="448" width="8" height="10" fill="#008f00"/>
<rect x="379" y="447" width="11" height="11" fill="#ffc400"/>
<rect x="380" y="448" width="9" height="10" fill="#008f00"/>
<rect x="389" y="435" width="10" height="23" fill="#ffc400"/>
<rect x="390" y="436" width="8" height="22" fill="#008f00"/>
<rect x="398" y="447" width="11" height="11" fill="#ffc400"/>
<rect x="399" y="448" width="9" height="10" fill="#008f00"/>
<rect x="408" y="447" width="10" height="11" fill="#ffc400"/>
<rect x="409" y="448" width="8" height="10" fill="#008f00"/>
<rect x="417" y="447" width="11" height="11" fill="#ffc400"/>
<rect x="418" y="448" width="9" height="10" fill="#008f00"/>
<rect x="427" y="435" width="11" height="23" fill="#ffc400"/>
<rect x="428" y="436" width="9" height="22" fill="#008f00"/>
<rect x="437" y="435" width="10" height="23" fill="#ffc400"/>
<rect x="438" y="436" width="8" height="22" fill="#008f00"/>
<rect x="446" y="413" width="11" height="45" fill="#ffc400"/>
<rect x="447" y="414" width="9" height="44" fill="#f2bf06"/>
<rect x="456" y="413" width="10" height="45" fill="#ffc400"/>
<rect x="457" y="414" width="8" height="44" fill="#f2bf06"/>
<rect x="465" y="424" width="11" height="34" fill="#ffc400"/>
<rect x="466" y="425" width="9" height="33" fill="#008f00"/>
<rect x="475" y="424" width="10" height="34" fill="#ffc400"/>
<rect x="476" y="425" width="8" height="33" fill="#008f00"/>
<rect x="484" y="424" width="11" height="34" fill="#ffc400"/>
<rect x="485" y="425" width="9" height="33" fill="#008f00"/>
<rect x="41" y="456" width="1" height="2" fill="#ffc400"/>
<rect x="50" y="456" width="1" height="2" fill="#ffc400"/>
<rect x="60" y="456" width="1" height="2" fill="#ffc400"/>
<rect x="69" y="456" width="1" height="2" fill="#ffc400"/>
<rect x="79" y="456" width="1" height="2" fill="#ffc400"/>
<rect x="88" y="456" width="1" height="2" fill="#ffc400"/>
<rect x="98" y="456" width="1" height="2" fill="#ffc400"/>
<rect x="108" y="456" width="1" height="2" fill="#ffc400"/>
<rect x="117" y="456" width="1" height="2" fill="#ffc400"/>
<rect x="127" y="456" width="1" height="2" fill="#ffc400"/>
<rect x="136" y="456" width="1" height="2" fill="#ffc400"/>
<rect x="146" y="456" width="1" height="2" fill="#ffc400"/>
<rect x="155" y="456" width="1" height="2" fill="#ffc400"/>
<rect x="165" y="456" width="1" height="2" fill="#ffc400"/>
<rect x="174" y="456" width="1" height="2" fill="#ffc400"/>
<rect x="184" y="456" width="1" height="2" fill="#ffc400"/>
<rect x="193" y="456" width="1" height="2" fill="#ffc400"/>
<rect x="203" y="456" width="1" height="2" fill="#ffc400"/>
<rect x="212" y="456" width="1" height="2" fill="#ffc400"/>
<rect x="222" y="456" width="1" height="2" fill="#ffc400"/>
<rect x="231" y="456" width="1" height="2" fill="#ffc400"/>
<rect x="241" y="456" width="1" height="2" fill="#ffc400"/>
<rect x="251" y="456" width="1" height="2" fill="#ffc400"/>
<rect x="260" y="456" width="1" height="2" fill="#ffc400"/>
<rect x="270" y="456" width="1" height="2" fill="#ffc400"/>
<rect x="279" y="456" width="1" height="2" fill="#ffc400"/>
<rect x="289" y="456" width="1" height="2" fill="#ffc400"/>
<rect x="298" y="456" width="1" height="2" fill="#ffc400"/>
<rect x="308" y="456" width="1" height="2" fill="#ffc400"/>
<rect x="317" y="456" width="1" height="2" fill="#ffc400"/>
<rect x="327" y="456" width="1" height="2" fill="#ffc400"/>
<rect x="336" y="456" width="1" height="2" fill="#ffc400"/>
<rect x="346" y="456" width="1" height="2" fill="#ffc400"/>
<rect x="355" y="456" width="1" height="2" fill="#ffc400"/>
<rect x="365" y="456" width="1" height="2" fill="#ffc400"/>
<rect x="375" y="456" width="1" height="2" fill="#ffc400"/>
<rect x="384" y="456" width="1" height="2" fill="#ffc400"/>
<rect x="394" y="456" width="1" height="2" fill="#ffc400"/>
<rect x="403" y="456" width="1" height="2" fill="#ffc400"/>
<rect x="413" y="456" width="1" height="2" fill="#ffc400"/>
<rect x="422" y="456" width="1" height="2" fill="#ffc400"/>
<rect x="432" y="456" width="1" height="2" fill="#ffc400"/>
<rect x="441" y="456" width="1" height="2" fill="#ffc400"/>
<rect x="451" y="456" width="1" height="2" fill="#ffc400"/>
<rect x="460" y="456" width="1" height="2" fill="#ffc400"/>
<rect x="470" y="456" width="1" height="2" fill="#ffc400"/>
<rect x="479" y="456" width="1" height="2" fill="#ffc400"/>
<rect x="489" y="456" width="1" height="2" fill="#ffc400"/>
<rect x="498" y="456" width="1" height="2" fill="#ffc400"/>
<rect x="508" y="456" width="1" height="2" fill="#ffc400"/>
<rect x="518" y="456" width="1" height="2" fill="#ffc400"/>
<rect x="527" y="456" width="1" height="2" fill="#ffc400"/>
<rect x="537" y="456" width="1" height="2" fill="#ffc400"/>
<rect x="546" y="456" width="1" height="2" fill="#ffc400"/>
<rect x="556" y="456" width="1" height="2" fill="#ffc400"/>
<rect x="565" y="456" width="1" height="2" fill="#ffc400"/>
<path d="M39 379h1v1h-1zM43 379h1v1h-1zM47 379h1v1h-1zM51 379h1v1h-1zM55 379h1v1h-1zM59 379h1v1h-1zM63 379h1v1h-1zM67 379h1v1h-1zM71 379h1v1h-1zM75 379h1v1h-1zM79 379h1v1h-1zM83 379h1v1h-1zM87 379h1v1h-1zM91 379h1v1h-1zM95 379h1v1h-1zM99 379h1v1h-1zM103 379h1v1h-1zM107 379h1v1h-1zM111 379h1v1h-1zM115 379h1v1h-1zM119 379h1v1h-1zM123 379h1v1h-1zM127 379h1v1h-1zM131 379h1v1h-1zM135 379h1v1h-1zM139 379h1v1h-1zM143 379h1v1h-1zM147 379h1v1h-1zM151 379h1v1h-1zM155 379h1v1h-1zM159 379h1v1h-1zM163 379h1v1h-1zM167 379h1v1h-1zM171 379h1v1h-1zM175 379h1v1h-1zM179 379h1v1h-1zM183 379h1v1h-1zM187 379h1v1h-1zM191 379h1v1h-1zM195 379h1v1h-1zM199 379h1v1h-1zM203 379h1v1h-1zM207 379h1v1h-1zM211 379h1v1h-1zM215 379h1v1h-1zM219 379h1v1h-1zM223 379h1v1h-1zM227 379h1v1h-1zM231 379h1v1h-1zM235 379h1v1h-1zM239 379h1v1h-1zM243 379h1v1h-1zM247 379h1v1h-1zM251 379h1v1h-1zM255 379h1v1h-1zM259 379h1v1h-1zM263 379h1v1h-1zM267 379h1v1h-1zM271 379h1v1h-1zM275 379h1v1h-1zM279 379h1v1h-1zM283 379h1v1h-1zM287 379h1v1h-1zM291 379h1v1h-1zM295 379h1v1h-1zM299 379h1v1h-1zM303 379h1v1h-1zM307 379h1v1h-1zM311 379h1v1h-1zM315 379h1v1h-1zM319 379h1v1h-1zM323 379h1v1h-1zM327 379h1v1h-1zM331 379h1v1h-1zM335 379h1v1h-1zM339 379h1v1h-1zM343 379h1v1h-1zM347 379h1v1h-1zM351 379h1v1h-1zM355 379h1v1h-1zM359 379h1v1h-1zM363 379h1v1h-1zM367 379h1v1h-1zM371 379h1v1h-1zM375 379h1v1h-1zM379 379h1v1h-1zM383 379h1v1h-1zM387 379h1v1h-1zM391 379h1v1h-1zM395 379h1v1h-1zM399 379h1v1h-1zM403 379h1v1h-1zM407 379h1v1h-1zM411 379h1v1h-1zM415 379h1v1h-1zM419 379h1v1h-1zM423 379h1v1h-1zM427 379h1v1h-1zM431 379h1v1h-1zM435 379h1v1h-1zM439 379h1v1h-1zM443 379h1v1h-1zM447 379h1v1h-1zM451 379h1v1h-1zM455 379h1v1h-1zM459 379h1v1h-1zM463 379h1v1h-1zM467 379h1v1h-1zM471 379h1v1h-1zM475 379h1v1h-1zM479 379h1v1h-1zM483 379h1v1h-1zM487 379h1v1h-1zM491 379h1v1h-1zM495 379h1v1h-1zM499 379h1v1h-1zM503 379h1v1h-1zM507 379h1v1h-1zM511 379h1v1h-1zM515 379h1v1h-1zM519 379h1v1h-1zM523 379h1v1h-1zM527 379h1v1h-1zM531 379h1v1h-1zM535 379h1v1h-1zM539 379h1v1h-1zM543 379h1v1h-1zM547 379h1v1h-1zM551 379h1v1h-1zM555 379h1v1h-1zM559 379h1v1h-1zM563 379h1v1h-1zM567 379h1v1h-1z" fill="#747474"/>
<path d="M38 401h1v1h-1zM42 401h1v1h-1zM46 401h1v1h-1zM50 401h1v1h-1zM54 401h1v1h-1zM58 401h1v1h-1zM62 401h1v1h-1zM66 401h1v1h-1zM70 401h1v1h-1zM74 401h1v1h-1zM78 401h1v1h-1zM82 401h1v1h-1zM86 401h1v1h-1zM90 401h1v1h-1zM94 401h1v1h-1zM98 401h1v1h-1zM102 401h1v1h-1zM106 401h1v1h-1zM110 401h1v1h-1zM114 401h1v1h-1zM118 401h1v1h-1zM122 401h1v1h-1zM126 401h1v1h-1zM130 401h1v1h-1zM134 401h1v1h-1zM138 401h1v1h-1zM142 401h1v1h-1zM146 401h1v1h-1zM150 401h1v1h-1zM154 401h1v1h-1zM158 401h1v1h-1zM162 401h1v1h-1zM166 401h1v1h-1zM170 401h1v1h-1zM174 401h1v1h-1zM178 401h1v1h-1zM182 401h1v1h-1zM186 401h1v1h-1zM190 401h1v1h-1zM194 401h1v1h-1zM198 401h1v1h-1zM202 401h1v1h-1zM206 401h1v1h-1zM210 401h1v1h-1zM214 401h1v1h-1zM218 401h1v1h-1zM222 401h1v1h-1zM226 401h1v1h-1zM230 401h1v1h-1zM234 401h1v1h-1zM238 401h1v1h-1zM242 401h1v1h-1zM246 401h1v1h-1zM250 401h1v1h-1zM254 401h1v1h-1zM258 401h1v1h-1zM262 401h1v1h-1zM266 401h1v1h-1zM270 401h1v1h-1zM274 401h1v1h-1zM278 401h1v1h-1zM282 401h1v1h-1zM286 401h1v1h-1zM290 401h1v1h-1zM294 401h1v1h-1zM298 401h1v1h-1zM302 401h1v1h-1zM306 401h1v1h-1zM310 401h1v1h-1zM314 401h1v1h-1zM318 401h1v1h-1zM322 401h1v1h-1zM326 401h1v1h-1zM330 401h1v1h-1zM334 401h1v1h-1zM338 401h1v1h-1zM342 401h1v1h-1zM346 401h1v1h-1zM350 401h1v1h-1zM354 401h1v1h-1zM358 401h1v1h-1zM362 401h1v1h-1zM366 401h1v1h-1zM370 401h1v1h-1zM374 401h1v1h-1zM378 401h1v1h-1zM382 401h1v1h-1zM386 401h1v1h-1zM390 401h1v1h-1zM394 401h1v1h-1zM398 401h1v1h-1zM402 401h1v1h-1zM406 401h1v1h-1zM410 401h1v1h-1zM414 401h1v1h-1zM418 401h1v1h-1zM422 401h1v1h-1zM426 401h1v1h-1zM430 401h1v1h-1zM434 401h1v1h-1zM438 401h1v1h-1zM442 401h1v1h-1zM446 401h1v1h-1zM450 401h1v1h-1zM454 401h1v1h-1zM458 401h1v1h-1zM462 401h1v1h-1zM466 401h1v1h-1zM470 401h1v1h-1zM474 401h1v1h-1zM478 401h1v1h-1zM482 401h1v1h-1zM486 401h1v1h-1zM490 401h1v1h-1zM494 401h1v1h-1zM498 401h1v1h-1zM502 401h1v1h-1zM506 401h1v1h-1zM510 401h1v1h-1zM514 401h1v1h-1zM518 401h1v1h-1zM522 401h1v1h-1zM526 401h1v1h-1zM530 401h1v1h-1zM534 401h1v1h-1zM538 401h1v1h-1zM542 401h1v1h-1zM546 401h1v1h-1zM550 401h1v1h-1zM554 401h1v1h-1zM558 401h1v1h-1zM562 401h1v1h-1zM566 401h1v1h-1z" fill="#747474"/>
<path d="M37 413h1v1h-1zM41 413h1v1h-1zM45 413h1v1h-1zM49 413h1v1h-1zM53 413h1v1h-1zM57 413h1v1h-1zM61 413h1v1h-1zM65 413h1v1h-1zM69 413h1v1h-1zM73 413h1v1h-1zM77 413h1v1h-1zM81 413h1v1h-1zM85 413h1v1h-1zM89 413h1v1h-1zM93 413h1v1h-1zM97 413h1v1h-1zM101 413h1v1h-1zM105 413h1v1h-1zM109 413h1v1h-1zM113 413h1v1h-1zM117 413h1v1h-1zM121 413h1v1h-1zM125 413h1v1h-1zM129 413h1v1h-1zM133 413h1v1h-1zM137 413h1v1h-1zM141 413h1v1h-1zM145 413h1v1h-1zM149 413h1v1h-1zM153 413h1v1h-1zM157 413h1v1h-1zM161 413h1v1h-1zM165 413h1v1h-1zM169 413h1v1h-1zM173 413h1v1h-1zM177 413h1v1h-1zM181 413h1v1h-1zM185 413h1v1h-1zM189 413h1v1h-1zM193 413h1v1h-1zM197 413h1v1h-1zM201 413h1v1h-1zM205 413h1v1h-1zM209 413h1v1h-1zM213 413h1v1h-1zM217 413h1v1h-1zM221 413h1v1h-1zM225 413h1v1h-1zM229 413h1v1h-1zM233 413h1v1h-1zM237 413h1v1h-1zM241 413h1v1h-1zM245 413h1v1h-1zM249 413h1v1h-1zM253 413h1v1h-1zM257 413h1v1h-1zM261 413h1v1h-1zM265 413h1v1h-1zM269 413h1v1h-1zM273 413h1v1h-1zM277 413h1v1h-1zM281 413h1v1h-1zM285 413h1v1h-1zM289 413h1v1h-1zM293 413h1v1h-1zM297 413h1v1h-1zM301 413h1v1h-1zM305 413h1v1h-1zM309 413h1v1h-1zM313 413h1v1h-1zM317 413h1v1h-1zM321 413h1v1h-1zM325 413h1v1h-1zM329 413h1v1h-1zM333 413h1v1h-1zM337 413h1v1h-1zM341 413h1v1h-1zM345 413h1v1h-1zM349 413h1v1h-1zM353 413h1v1h-1zM357 413h1v1h-1zM361 413h1v1h-1zM365 413h1v1h-1zM369 413h1v1h-1zM373 413h1v1h-1zM377 413h1v1h-1zM381 413h1v1h-1zM385 413h1v1h-1zM389 413h1v1h-1zM393 413h1v1h-1zM397 413h1v1h-1zM401 413h1v1h-1zM405 413h1v1h-1zM409 413h1v1h-1zM413 413h1v1h-1zM417 413h1v1h-1zM421 413h1v1h-1zM425 413h1v1h-1zM429 413h1v1h-1zM433 413h1v1h-1zM437 413h1v1h-1zM441 413h1v1h-1zM445 413h1v1h-1zM449 413h1v1h-1zM453 413h1v1h-1zM457 413h1v1h-1zM461 413h1v1h-1zM465 413h1v1h-1zM469 413h1v1h-1zM473 413h1v1h-1zM477 413h1v1h-1zM481 413h1v1h-1zM485 413h1v1h-1zM489 413h1v1h-1zM493 413h1v1h-1zM497 413h1v1h-1zM501 413h1v1h-1zM505 413h1v1h-1zM509 413h1v1h-1zM513 413h1v1h-1zM517 413h1v1h-1zM521 413h1v1h-1zM525 413h1v1h-1zM529 413h1v1h-1zM533 413h1v1h-1zM537 413h1v1h-1zM541 413h1v1h-1zM545 413h1v1h-1zM549 413h1v1h-1zM553 413h1v1h-1zM557 413h1v1h-1zM561 413h1v1h-1zM565 413h1v1h-1zM569 413h1v1h-1z" fill="#747474"/>
<path d="M112 362h1v1h-1zM112 366h1v1h-1zM112 370h1v1h-1zM112 374h1v1h-1zM112 378h1v1h-1zM112 382h1v1h-1zM112 386h1v1h-1zM112 390h1v1h-1zM112 394h1v1h-1zM112 398h1v1h-1zM112 402h1v1h-1zM112 406h1v1h-1zM112 410h1v1h-1zM112 414h1v1h-1zM112 418h1v1h-1zM112 422h1v1h-1zM112 426h1v1h-1zM112 430h1v1h-1zM112 434h1v1h-1zM112 438h1v1h-1zM112 442h1v1h-1zM112 446h1v1h-1zM112 450h1v1h-1zM112 454h1v1h-1z" fill="#747474"/>
<rect x="112" y="357" width="1" height="2" fill="#000"/>
<path d="M189 361h1v1h-1zM189 365h1v1h-1zM189 369h1v1h-1zM189 373h1v1h-1zM189 377h1v1h-1zM189 381h1v1h-1zM189 385h1v1h-1zM189 389h1v1h-1zM189 393h1v1h-1zM189 397h1v1h-1zM189 401h1v1h-1zM189 405h1v1h-1zM189 409h1v1h-1zM189 413h1v1h-1zM189 417h1v1h-1zM189 421h1v1h-1zM189 425h1v1h-1zM189 429h1v1h-1zM189 433h1v1h-1zM189 437h1v1h-1zM189 441h1v1h-1zM189 445h1v1h-1zM189 449h1v1h-1zM189 453h1v1h-1z" fill="#747474"/>
<rect x="189" y="357" width="1" height="2" fill="#000"/>
<path d="M265 360h1v1h-1zM265 364h1v1h-1zM265 368h1v1h-1zM265 372h1v1h-1zM265 376h1v1h-1zM265 380h1v1h-1zM265 384h1v1h-1zM265 388h1v1h-1zM265 392h1v1h-1zM265 396h1v1h-1zM265 400h1v1h-1zM265 404h1v1h-1zM265 408h1v1h-1zM265 412h1v1h-1zM265 416h1v1h-1zM265 420h1v1h-1zM265 424h1v1h-1zM265 428h1v1h-1zM265 432h1v1h-1zM265 436h1v1h-1zM265 440h1v1h-1zM265 444h1v1h-1zM265 448h1v1h-1zM265 452h1v1h-1zM265 456h1v1h-1z" fill="#747474"/>
<rect x="265" y="357" width="1" height="2" fill="#000"/>
<path d="M341 359h1v1h-1zM341 363h1v1h-1zM341 367h1v1h-1zM341 371h1v1h-1zM341 375h1v1h-1zM341 379h1v1h-1zM341 383h1v1h-1zM341 387h1v1h-1zM341 391h1v1h-1zM341 395h1v1h-1zM341 399h1v1h-1zM341 403h1v1h-1zM341 407h1v1h-1zM341 411h1v1h-1zM341 415h1v1h-1zM341 419h1v1h-1zM341 423h1v1h-1zM341 427h1v1h-1zM341 431h1v1h-1zM341 435h1v1h-1zM341 439h1v1h-1zM341 443h1v1h-1zM341 447h1v1h-1zM341 451h1v1h-1zM341 455h1v1h-1z" fill="#747474"/>
<rect x="341" y="357" width="1" height="2" fill="#000"/>
<path d="M417 362h1v1h-1zM417 366h1v1h-1zM417 370h1v1h-1zM417 374h1v1h-1zM417 378h1v1h-1zM417 382h1v1h-1zM417 386h1v1h-1zM417 390h1v1h-1zM417 394h1v1h-1zM417 398h1v1h-1zM417 402h1v1h-1zM417 406h1v1h-1zM417 410h1v1h-1zM417 414h1v1h-1zM417 418h1v1h-1zM417 422h1v1h-1zM417 426h1v1h-1zM417 430h1v1h-1zM417 434h1v1h-1zM417 438h1v1h-1zM417 442h1v1h-1zM417 446h1v1h-1zM417 450h1v1h-1zM417 454h1v1h-1z" fill="#747474"/>
<rect x="417" y="357" width="1" height="2" fill="#000"/>
<path d="M494 361h1v1h-1zM494 365h1v1h-1zM494 369h1v1h-1zM494 373h1v1h-1zM494 377h1v1h-1zM494 381h1v1h-1zM494 385h1v1h-1zM494 389h1v1h-1zM494 393h1v1h-1zM494 397h1v1h-1zM494 401h1v1h-1zM494 405h1v1h-1zM494 409h1v1h-1zM494 413h1v1h-1zM494 417h1v1h-1zM494 421h1v1h-1zM494 425h1v1h-1zM494 429h1v1h-1zM494 433h1v1h-1zM494 437h1v1h-1zM494 441h1v1h-1zM494 445h1v1h-1zM494 449h1v1h-1zM494 453h1v1h-1z" fill="#747474"/>
<rect x="494" y="357" width="1" height="2" fill="#000"/>
<path d="M570 360h1v1h-1zM570 364h1v1h-1zM570 368h1v1h-1zM570 372h1v1h-1zM570 376h1v1h-1zM570 380h1v1h-1zM570 384h1v1h-1zM570 388h1v1h-1zM570 392h1v1h-1zM570 396h1v1h-1zM570 400h1v1h-1zM570 404h1v1h-1zM570 408h1v1h-1zM570 412h1v1h-1zM570 416h1v1h-1zM570 420h1v1h-1zM570 424h1v1h-1zM570 428h1v1h-1zM570 432h1v1h-1zM570 436h1v1h-1zM570 440h1v1h-1zM570 444h1v1h-1zM570 448h1v1h-1zM570 452h1v1h-1zM570 456h1v1h-1z" fill="#747474"/>
<rect x="36" y="458" width="535" height="1" fill="#000"/>
</g>
<g font-family="Liberation Sans, sans-serif" fill="#000">
<text transform="translate(0 15) scale(1.1700 1)" font-size="12.8" ><tspan x="0.57" textLength="7.27" lengthAdjust="spacingAndGlyphs">3</tspan><tspan x="7.50" textLength="11.66" lengthAdjust="spacingAndGlyphs">-</tspan><tspan x="18.77" letter-spacing="0.773">hour</tspan> <tspan x="52.66" textLength="7.55" lengthAdjust="spacingAndGlyphs">K</tspan><tspan x="59.87" textLength="12.47" lengthAdjust="spacingAndGlyphs">-</tspan><tspan x="70.94" letter-spacing="0.502">indices</tspan> <tspan x="119.48" letter-spacing="1.061">for</tspan> <tspan x="142.54" letter-spacing="0.579">Last</tspan> <tspan x="174.02" textLength="8.37" lengthAdjust="spacingAndGlyphs">7</tspan> <tspan x="189.63" letter-spacing="0.295">days</tspan></text>
<g>
<text transform="translate(0 14.5) scale(1.1700 1)" font-size="10.3" stroke="#000" stroke-width="0.2" ><tspan x="287.06" textLength="35.19" lengthAdjust="spacingAndGlyphs">Legend:</tspan></text>
<text transform="translate(0 14.5) scale(1.1700 1)" font-size="10.3" stroke="#000" stroke-width="0.2" ><tspan x="344.10" textLength="4.97" lengthAdjust="spacingAndGlyphs">0</tspan><tspan x="349.29" textLength="8.51" lengthAdjust="spacingAndGlyphs">-</tspan><tspan x="357.39" textLength="5.71" lengthAdjust="spacingAndGlyphs">3</tspan></text>
<text transform="translate(0 14.5) scale(1.1700 1)" font-size="10.3" stroke="#000" stroke-width="0.2" ><tspan x="395.49" textLength="5.66" lengthAdjust="spacingAndGlyphs">4</tspan></text>
<text transform="translate(0 14.5) scale(1.1700 1)" font-size="10.3" stroke="#000" stroke-width="0.2" ><tspan x="430.80" textLength="13.64" lengthAdjust="spacingAndGlyphs">5,6</tspan></text>
<text transform="translate(0 14.5) scale(1.1700 1)" font-size="10.3" stroke="#000" stroke-width="0.2" ><tspan x="482.38" textLength="5.75" lengthAdjust="spacingAndGlyphs">7</tspan><tspan x="488.18" textLength="8.51" lengthAdjust="spacingAndGlyphs">-</tspan><tspan x="496.15" textLength="5.15" lengthAdjust="spacingAndGlyphs">9</tspan></text>
</g>
<text x="33.6" y="121.8" font-size="9.8" text-anchor="end" stroke="#000" stroke-width="0.2">0</text>
<text x="33.6" y="114" font-size="9.8" text-anchor="end" stroke="#000" stroke-width="0.2">1</text>
<text x="33.6" y="103" font-size="9.8" text-anchor="end" stroke="#000" stroke-width="0.2">2</text>
<text x="33.6" y="91" font-size="9.8" text-anchor="end" stroke="#000" stroke-width="0.2">3</text>
<text x="33.6" y="80" font-size="9.8" text-anchor="end" stroke="#000" stroke-width="0.2">4</text>
<text x="33.6" y="69" font-size="9.8" text-anchor="end" stroke="#000" stroke-width="0.2">5</text>
<text x="33.6" y="57" font-size="9.8" text-anchor="end" stroke="#000" stroke-width="0.2">6</text>
<text x="33.6" y="46" font-size="9.8" text-anchor="end" stroke="#000" stroke-width="0.2">7</text>
<text x="33.6" y="35" font-size="9.8" text-anchor="end" stroke="#000" stroke-width="0.2">8</text>
<text x="33.6" y="26" font-size="9.8" text-anchor="end" stroke="#000" stroke-width="0.2">9</text>
<text x="33.6" y="234.8" font-size="9.8" text-anchor="end" stroke="#000" stroke-width="0.2">0</text>
<text x="33.6" y="226" font-size="9.8" text-anchor="end" stroke="#000" stroke-width="0.2">1</text>
<text x="33.6" y="215" font-size="9.8" text-anchor="end" stroke="#000" stroke-width="0.2">2</text>
<text x="33.6" y="204" font-size="9.8" text-anchor="end" stroke="#000" stroke-width="0.2">3</text>
<text x="33.6" y="192" font-size="9.8" text-anchor="end" stroke="#000" stroke-width="0.2">4</text>
<text x="33.6" y="181" font-size="9.8" text-anchor="end" stroke="#000" stroke-width="0.2">5</text>
<text x="33.6" y="170" font-size="9.8" text-anchor="end" stroke="#000" stroke-width="0.2">6</text>
<text x="33.6" y="158" font-size="9.8" text-anchor="end" stroke="#000" stroke-width="0.2">7</text>
<text x="33.6" y="148" font-size="9.8" text-anchor="end" stroke="#000" stroke-width="0.2">8</text>
<text x="33.6" y="139" font-size="9.8" text-anchor="end" stroke="#000" stroke-width="0.2">9</text>
<text x="33.6" y="346.8" font-size="9.8" text-anchor="end" stroke="#000" stroke-width="0.2">0</text>
<text x="33.6" y="338" font-size="9.8" text-anchor="end" stroke="#000" stroke-width="0.2">1</text>
<text x="33.6" y="327" font-size="9.8" text-anchor="end" stroke="#000" stroke-width="0.2">2</text>
<text x="33.6" y="316" font-size="9.8" text-anchor="end" stroke="#000" stroke-width="0.2">3</text>
<text x="33.6" y="304" font-size="9.8" text-anchor="end" stroke="#000" stroke-width="0.2">4</text>
<text x="33.6" y="293" font-size="9.8" text-anchor="end" stroke="#000" stroke-width="0.2">5</text>
<text x="33.6" y="282" font-size="9.8" text-anchor="end" stroke="#000" stroke-width="0.2">6</text>
<text x="33.6" y="270" font-size="9.8" text-anchor="end" stroke="#000" stroke-width="0.2">7</text>
<text x="33.6" y="260" font-size="9.8" text-anchor="end" stroke="#000" stroke-width="0.2">8</text>
<text x="33.6" y="251" font-size="9.8" text-anchor="end" stroke="#000" stroke-width="0.2">9</text>
<text x="33.6" y="458.8" font-size="9.8" text-anchor="end" stroke="#000" stroke-width="0.2">0</text>
<text x="33.6" y="451" font-size="9.8" text-anchor="end" stroke="#000" stroke-width="0.2">1</text>
<text x="33.6" y="439" font-size="9.8" text-anchor="end" stroke="#000" stroke-width="0.2">2</text>
<text x="33.6" y="428" font-size="9.8" text-anchor="end" stroke="#000" stroke-width="0.2">3</text>
<text x="33.6" y="417" font-size="9.8" text-anchor="end" stroke="#000" stroke-width="0.2">4</text>
<text x="33.6" y="405" font-size="9.8" text-anchor="end" stroke="#000" stroke-width="0.2">5</text>
<text x="33.6" y="394" font-size="9.8" text-anchor="end" stroke="#000" stroke-width="0.2">6</text>
<text x="33.6" y="383" font-size="9.8" text-anchor="end" stroke="#000" stroke-width="0.2">7</text>
<text x="33.6" y="372" font-size="9.8" text-anchor="end" stroke="#000" stroke-width="0.2">8</text>
<text x="33.6" y="363" font-size="9.8" text-anchor="end" stroke="#000" stroke-width="0.2">9</text>
<text transform="translate(12.3 97.52) rotate(-90) scale(1.1700 1)" font-size="10.6" letter-spacing="0.467"  stroke="#000" stroke-width="0.2">Boulder</text>
<text transform="translate(12.3 228.62) rotate(-90) scale(1.1700 1)" font-size="10.6" letter-spacing="0.165"  stroke="#000" stroke-width="0.2">Fredericksburg</text>
<text transform="translate(12.3 340.52) rotate(-90) scale(1.1700 1)" font-size="10.6" letter-spacing="0.259"  stroke="#000" stroke-width="0.2">Est. Planetary</text>
<text transform="translate(12.3 429.53) rotate(-90) scale(1.1700 1)" font-size="10.6" letter-spacing="0.117"  stroke="#000" stroke-width="0.2">College</text>
<text transform="translate(0 473) scale(1.1700 1)" font-size="10.3" stroke="#000" stroke-width="0.2" ><tspan x="14.69" textLength="16.10" lengthAdjust="spacingAndGlyphs">May</tspan> <tspan x="36.24" textLength="11.28" lengthAdjust="spacingAndGlyphs">22</tspan></text>
<text transform="translate(0 473) scale(1.1700 1)" font-size="10.3" stroke="#000" stroke-width="0.2" ><tspan x="79.64" textLength="16.10" lengthAdjust="spacingAndGlyphs">May</tspan> <tspan x="101.20" textLength="11.21" lengthAdjust="spacingAndGlyphs">23</tspan></text>
<text transform="translate(0 473) scale(1.1700 1)" font-size="10.3" stroke="#000" stroke-width="0.2" ><tspan x="145.45" textLength="16.10" lengthAdjust="spacingAndGlyphs">May</tspan> <tspan x="167.02" textLength="11.05" lengthAdjust="spacingAndGlyphs">24</tspan></text>
<text transform="translate(0 473) scale(1.1700 1)" font-size="10.3" stroke="#000" stroke-width="0.2" ><tspan x="210.41" textLength="16.10" lengthAdjust="spacingAndGlyphs">May</tspan> <tspan x="231.97" textLength="11.18" lengthAdjust="spacingAndGlyphs">25</tspan></text>
<text transform="translate(0 473) scale(1.1700 1)" font-size="10.3" stroke="#000" stroke-width="0.2" ><tspan x="275.37" textLength="16.10" lengthAdjust="spacingAndGlyphs">May</tspan> <tspan x="296.93" textLength="11.21" lengthAdjust="spacingAndGlyphs">26</tspan></text>
<text transform="translate(0 473) scale(1.1700 1)" font-size="10.3" stroke="#000" stroke-width="0.2" ><tspan x="340.33" textLength="16.10" lengthAdjust="spacingAndGlyphs">May</tspan> <tspan x="361.88" textLength="11.28" lengthAdjust="spacingAndGlyphs">27</tspan></text>
<text transform="translate(0 473) scale(1.1700 1)" font-size="10.3" stroke="#000" stroke-width="0.2" ><tspan x="406.14" textLength="16.10" lengthAdjust="spacingAndGlyphs">May</tspan> <tspan x="427.70" textLength="11.20" lengthAdjust="spacingAndGlyphs">28</tspan></text>
<text transform="translate(0 473) scale(1.1700 1)" font-size="10.3" stroke="#000" stroke-width="0.2" ><tspan x="471.10" textLength="16.10" lengthAdjust="spacingAndGlyphs">May</tspan> <tspan x="492.65" textLength="11.24" lengthAdjust="spacingAndGlyphs">29</tspan></text>
<text transform="translate(0 489.6) scale(1.1700 1)" font-size="12.5" ><tspan x="164.34" textLength="59.27" lengthAdjust="spacingAndGlyphs">Coordinate</tspan> <tspan x="230.26" textLength="50.46" lengthAdjust="spacingAndGlyphs">Universal</tspan> <tspan x="286.07" textLength="24.69" lengthAdjust="spacingAndGlyphs">Time</tspan> <tspan x="317.66" textLength="31.34" lengthAdjust="spacingAndGlyphs">(UTC)</tspan></text>
<text transform="translate(1.62 504.4) scale(1.1200 1)" font-size="13.8" letter-spacing="0.219" font-family="Liberation Serif, serif" font-weight="bold" fill="#000" stroke="none">Updated</text>
<text transform="translate(0 504.4) scale(1.1700 1)" font-size="12.6" ><tspan x="56.37" letter-spacing="0.387">2011</tspan> <tspan x="91.62" textLength="21.82" lengthAdjust="spacingAndGlyphs">May</tspan> <tspan x="119.02" letter-spacing="0.841">28</tspan> <tspan x="140.10" textLength="27.10" lengthAdjust="spacingAndGlyphs">1746</tspan></text>
<text transform="translate(0 504.4) scale(1.1700 1)" font-size="12.6" ><tspan x="344.38" textLength="68.61" lengthAdjust="spacingAndGlyphs">NOAA/SWPC</tspan> <tspan x="418.41" textLength="44.21" lengthAdjust="spacingAndGlyphs">Boulder,</tspan> <tspan x="470.19" textLength="14.64" lengthAdjust="spacingAndGlyphs">CO</tspan> <tspan x="490.64" textLength="21.60" lengthAdjust="spacingAndGlyphs">USA</tspan></text>
</g>
<text transform="translate(484.5 468.3) skewX(-14)" font-family="Liberation Serif, Noto Serif CJK SC, serif" font-weight="900" font-size="22" textLength="99" lengthAdjust="spacing" fill="#f7a400">地震论坛</text>
<text x="476.5" y="486" font-family="Liberation Sans, sans-serif" font-weight="bold" font-size="13" textLength="116" lengthAdjust="spacing" fill="#2424f0" stroke="#2424f0" stroke-width="0.5">dizhenluntan.com</text>
</svg>
</body></html>
